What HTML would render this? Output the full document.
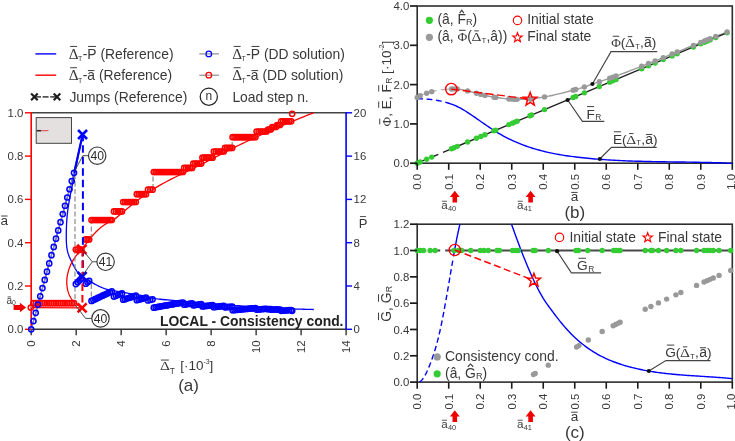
<!DOCTYPE html>
<html><head><meta charset="utf-8"><title>chart</title>
<style>
html,body{margin:0;padding:0;background:#ffffff;}
body{width:735px;height:441px;overflow:hidden;font-family:"Liberation Sans",sans-serif;}
svg{display:block;}
</style></head><body>
<svg width="735" height="441" viewBox="0 0 735 441" style="will-change:transform">
<rect x="0" y="0" width="735" height="441" fill="#ffffff"/>
<!-- panel a -->
<line x1="35.4" y1="53.9" x2="56.2" y2="53.9" stroke="#0000ff" stroke-width="1.4"/>
<g transform="translate(68.9,58.5)" fill="#383838"><text xml:space="preserve" transform="translate(-0.2,0) scale(1.08,1)" font-family='"Liberation Serif", serif' font-size="14.2">Δ</text><line x1="1.28" y1="-12.07" x2="8.18" y2="-12.07" stroke="#383838" stroke-width="0.97"/><text xml:space="preserve" x="9.16" y="2.7" font-family='"Liberation Sans", sans-serif' font-size="7">T</text><text xml:space="preserve" x="13.84" y="0" font-family='"Liberation Sans", sans-serif' font-size="13.86">-</text><text xml:space="preserve" x="18.45" y="0" font-family='"Liberation Sans", sans-serif' font-size="13.86">P</text><line x1="19.15" y1="-12.06" x2="27.01" y2="-12.06" stroke="#383838" stroke-width="0.97"/><text xml:space="preserve" x="27.7" y="0" font-family='"Liberation Sans", sans-serif' font-size="13.86"> (Reference)</text></g>
<line x1="35.4" y1="75.2" x2="56.2" y2="75.2" stroke="#ff0000" stroke-width="1.4"/>
<g transform="translate(68.9,79.8)" fill="#383838"><text xml:space="preserve" transform="translate(-0.2,0) scale(1.08,1)" font-family='"Liberation Serif", serif' font-size="14.2">Δ</text><line x1="1.28" y1="-12.07" x2="8.18" y2="-12.07" stroke="#383838" stroke-width="0.97"/><text xml:space="preserve" x="9.16" y="2.7" font-family='"Liberation Sans", sans-serif' font-size="7">T</text><text xml:space="preserve" x="13.84" y="0" font-family='"Liberation Sans", sans-serif' font-size="13.86">-</text><text xml:space="preserve" x="18.45" y="0" font-family='"Liberation Sans", sans-serif' font-size="13.86">a</text><line x1="19.03" y1="-9.22" x2="25.58" y2="-9.22" stroke="#383838" stroke-width="0.97"/><text xml:space="preserve" x="26.16" y="0" font-family='"Liberation Sans", sans-serif' font-size="13.86"> (Reference)</text></g>
<line x1="35" y1="96.9" x2="56.2" y2="96.9" stroke="#555" stroke-width="1.7" stroke-dasharray="6 1.6"/>
<path d="M31.1 93.6 L37.7 100.2 M31.1 100.2 L37.7 93.6" stroke="#1c1c1c" stroke-width="2.1" fill="none"/>
<path d="M53.7 93.6 L60.3 100.2 M53.7 100.2 L60.3 93.6" stroke="#1c1c1c" stroke-width="2.1" fill="none"/>
<g transform="translate(69.4,102)" fill="#383838"><text xml:space="preserve" x="0" y="0" font-family='"Liberation Sans", sans-serif' font-size="13.86">Jumps (Reference)</text></g>
<line x1="199.3" y1="53.9" x2="219" y2="53.9" stroke="#8c8c8c" stroke-width="1.2"/>
<circle cx="208.8" cy="53.9" r="2.8" fill="none" stroke="#0000ff" stroke-width="1.25"/>
<g transform="translate(232.4,58.5)" fill="#383838"><text xml:space="preserve" transform="translate(-0.2,0) scale(1.08,1)" font-family='"Liberation Serif", serif' font-size="14.2">Δ</text><line x1="1.28" y1="-12.07" x2="8.18" y2="-12.07" stroke="#383838" stroke-width="0.97"/><text xml:space="preserve" x="9.16" y="2.7" font-family='"Liberation Sans", sans-serif' font-size="7">T</text><text xml:space="preserve" x="13.84" y="0" font-family='"Liberation Sans", sans-serif' font-size="13.86">-</text><text xml:space="preserve" x="18.45" y="0" font-family='"Liberation Sans", sans-serif' font-size="13.86">P</text><line x1="19.15" y1="-12.06" x2="27.01" y2="-12.06" stroke="#383838" stroke-width="0.97"/><text xml:space="preserve" x="27.7" y="0" font-family='"Liberation Sans", sans-serif' font-size="13.86"> (DD solution)</text></g>
<line x1="199.3" y1="75.2" x2="219" y2="75.2" stroke="#8c8c8c" stroke-width="1.2"/>
<circle cx="208.8" cy="75.2" r="2.8" fill="none" stroke="#ff0000" stroke-width="1.25"/>
<g transform="translate(232.4,79.8)" fill="#383838"><text xml:space="preserve" transform="translate(-0.2,0) scale(1.08,1)" font-family='"Liberation Serif", serif' font-size="14.2">Δ</text><line x1="1.28" y1="-12.07" x2="8.18" y2="-12.07" stroke="#383838" stroke-width="0.97"/><text xml:space="preserve" x="9.16" y="2.7" font-family='"Liberation Sans", sans-serif' font-size="7">T</text><text xml:space="preserve" x="13.84" y="0" font-family='"Liberation Sans", sans-serif' font-size="13.86">-</text><text xml:space="preserve" x="18.45" y="0" font-family='"Liberation Sans", sans-serif' font-size="13.86">a</text><line x1="19.03" y1="-9.22" x2="25.58" y2="-9.22" stroke="#383838" stroke-width="0.97"/><text xml:space="preserve" x="26.16" y="0" font-family='"Liberation Sans", sans-serif' font-size="13.86"> (DD solution)</text></g>
<circle cx="208.8" cy="96.7" r="8.6" fill="none" stroke="#222" stroke-width="1.25"/>
<g transform="translate(208.8,100.3)" fill="#333"><text xml:space="preserve" x="-3.34" y="0" font-family='"Liberation Sans", sans-serif' font-size="12">n</text></g>
<g transform="translate(232.4,102)" fill="#383838"><text xml:space="preserve" x="0" y="0" font-family='"Liberation Sans", sans-serif' font-size="13.86">Load step n.</text></g>
<rect x="36.2" y="117.6" width="35.3" height="25.7" fill="#e4e0e0" stroke="#444" stroke-width="1"/>
<line x1="36.7" y1="130.7" x2="41" y2="130.7" stroke="#222" stroke-width="1.5"/>
<line x1="41" y1="130.8" x2="48.5" y2="130.6" stroke="#e03030" stroke-width="0.9"/>
<line x1="31.2" y1="112.8" x2="346.1" y2="112.8" stroke="#444" stroke-width="1.4"/>
<line x1="31.2" y1="329.3" x2="346.1" y2="329.3" stroke="#333" stroke-width="1.4"/>
<line x1="31.2" y1="112.2" x2="31.2" y2="329.9" stroke="#ff0000" stroke-width="1.6"/>
<line x1="346.1" y1="112.2" x2="346.1" y2="329.9" stroke="#0000ff" stroke-width="1.6"/>
<line x1="25" y1="329.3" x2="31.2" y2="329.3" stroke="#ff0000" stroke-width="1.4"/>
<g transform="translate(23.4,333.38)" fill="#383838"><text xml:space="preserve" x="-15.85" y="0" font-family='"Liberation Sans", sans-serif' font-size="11.4">0.0</text></g>
<line x1="346.1" y1="329.3" x2="352.1" y2="329.3" stroke="#0000ff" stroke-width="1.4"/>
<g transform="translate(353.6,333.38)" fill="#383838"><text xml:space="preserve" x="0" y="0" font-family='"Liberation Sans", sans-serif' font-size="11.4">0</text></g>
<line x1="25" y1="286" x2="31.2" y2="286" stroke="#ff0000" stroke-width="1.4"/>
<g transform="translate(23.4,290.08)" fill="#383838"><text xml:space="preserve" x="-15.85" y="0" font-family='"Liberation Sans", sans-serif' font-size="11.4">0.2</text></g>
<line x1="346.1" y1="286" x2="352.1" y2="286" stroke="#0000ff" stroke-width="1.4"/>
<g transform="translate(353.6,290.08)" fill="#383838"><text xml:space="preserve" x="0" y="0" font-family='"Liberation Sans", sans-serif' font-size="11.4">4</text></g>
<line x1="25" y1="242.7" x2="31.2" y2="242.7" stroke="#ff0000" stroke-width="1.4"/>
<g transform="translate(23.4,246.78)" fill="#383838"><text xml:space="preserve" x="-15.85" y="0" font-family='"Liberation Sans", sans-serif' font-size="11.4">0.4</text></g>
<line x1="346.1" y1="242.7" x2="352.1" y2="242.7" stroke="#0000ff" stroke-width="1.4"/>
<g transform="translate(353.6,246.78)" fill="#383838"><text xml:space="preserve" x="0" y="0" font-family='"Liberation Sans", sans-serif' font-size="11.4">8</text></g>
<line x1="25" y1="199.4" x2="31.2" y2="199.4" stroke="#ff0000" stroke-width="1.4"/>
<g transform="translate(23.4,203.48)" fill="#383838"><text xml:space="preserve" x="-15.85" y="0" font-family='"Liberation Sans", sans-serif' font-size="11.4">0.6</text></g>
<line x1="346.1" y1="199.4" x2="352.1" y2="199.4" stroke="#0000ff" stroke-width="1.4"/>
<g transform="translate(353.6,203.48)" fill="#383838"><text xml:space="preserve" x="0" y="0" font-family='"Liberation Sans", sans-serif' font-size="11.4">12</text></g>
<line x1="25" y1="156.1" x2="31.2" y2="156.1" stroke="#ff0000" stroke-width="1.4"/>
<g transform="translate(23.4,160.18)" fill="#383838"><text xml:space="preserve" x="-15.85" y="0" font-family='"Liberation Sans", sans-serif' font-size="11.4">0.8</text></g>
<line x1="346.1" y1="156.1" x2="352.1" y2="156.1" stroke="#0000ff" stroke-width="1.4"/>
<g transform="translate(353.6,160.18)" fill="#383838"><text xml:space="preserve" x="0" y="0" font-family='"Liberation Sans", sans-serif' font-size="11.4">16</text></g>
<line x1="25" y1="112.8" x2="31.2" y2="112.8" stroke="#ff0000" stroke-width="1.4"/>
<g transform="translate(23.4,116.88)" fill="#383838"><text xml:space="preserve" x="-15.85" y="0" font-family='"Liberation Sans", sans-serif' font-size="11.4">1.0</text></g>
<line x1="346.1" y1="112.8" x2="352.1" y2="112.8" stroke="#0000ff" stroke-width="1.4"/>
<g transform="translate(353.6,116.88)" fill="#383838"><text xml:space="preserve" x="0" y="0" font-family='"Liberation Sans", sans-serif' font-size="11.4">20</text></g>
<line x1="31.2" y1="329.3" x2="31.2" y2="335.3" stroke="#333" stroke-width="1.4"/>
<g transform="translate(35.28,340.3) rotate(-90)" fill="#383838"><text xml:space="preserve" x="-6.34" y="0" font-family='"Liberation Sans", sans-serif' font-size="11.4">0</text></g>
<line x1="76.19" y1="329.3" x2="76.19" y2="335.3" stroke="#333" stroke-width="1.4"/>
<g transform="translate(80.27,340.3) rotate(-90)" fill="#383838"><text xml:space="preserve" x="-6.34" y="0" font-family='"Liberation Sans", sans-serif' font-size="11.4">2</text></g>
<line x1="121.17" y1="329.3" x2="121.17" y2="335.3" stroke="#333" stroke-width="1.4"/>
<g transform="translate(125.25,340.3) rotate(-90)" fill="#383838"><text xml:space="preserve" x="-6.34" y="0" font-family='"Liberation Sans", sans-serif' font-size="11.4">4</text></g>
<line x1="166.16" y1="329.3" x2="166.16" y2="335.3" stroke="#333" stroke-width="1.4"/>
<g transform="translate(170.24,340.3) rotate(-90)" fill="#383838"><text xml:space="preserve" x="-6.34" y="0" font-family='"Liberation Sans", sans-serif' font-size="11.4">6</text></g>
<line x1="211.14" y1="329.3" x2="211.14" y2="335.3" stroke="#333" stroke-width="1.4"/>
<g transform="translate(215.22,340.3) rotate(-90)" fill="#383838"><text xml:space="preserve" x="-6.34" y="0" font-family='"Liberation Sans", sans-serif' font-size="11.4">8</text></g>
<line x1="256.13" y1="329.3" x2="256.13" y2="335.3" stroke="#333" stroke-width="1.4"/>
<g transform="translate(260.21,340.3) rotate(-90)" fill="#383838"><text xml:space="preserve" x="-12.68" y="0" font-family='"Liberation Sans", sans-serif' font-size="11.4">10</text></g>
<line x1="301.11" y1="329.3" x2="301.11" y2="335.3" stroke="#333" stroke-width="1.4"/>
<g transform="translate(305.2,340.3) rotate(-90)" fill="#383838"><text xml:space="preserve" x="-12.68" y="0" font-family='"Liberation Sans", sans-serif' font-size="11.4">12</text></g>
<line x1="346.1" y1="329.3" x2="346.1" y2="335.3" stroke="#333" stroke-width="1.4"/>
<g transform="translate(350.18,340.3) rotate(-90)" fill="#383838"><text xml:space="preserve" x="-12.68" y="0" font-family='"Liberation Sans", sans-serif' font-size="11.4">14</text></g>
<path d="M31.2 329.3 L74 172.8 L82.55 134.5 L82.23 135.93 L81.92 137.34 L81.62 138.73 L81.32 140.1 L81.03 141.44 L80.75 142.77 L80.48 144.09 L80.21 145.38 L79.95 146.67 L79.69 147.94 L79.44 149.2 L79.19 150.45 L78.94 151.7 L78.7 152.93 L78.46 154.16 L78.22 155.39 L77.99 156.62 L77.75 157.84 L77.52 159.07 L77.28 160.29 L77.04 161.53 L76.81 162.76 L76.57 164 L76.33 165.25 L76.08 166.51 L75.84 167.78 L75.58 169.06 L75.33 170.35 L75.07 171.66 L74.8 172.99 L74.53 174.33 L74.26 175.69 L73.98 177.06 L73.69 178.45 L73.4 179.85 L73.11 181.26 L72.82 182.67 L72.52 184.09 L72.23 185.51 L71.94 186.93 L71.65 188.35 L71.36 189.75 L71.08 191.16 L70.8 192.55 L70.53 193.92 L70.27 195.28 L70.01 196.63 L69.76 197.95 L69.52 199.25 L69.29 200.54 L69.06 201.81 L68.85 203.06 L68.65 204.3 L68.45 205.53 L68.26 206.75 L68.09 207.97 L67.92 209.17 L67.76 210.38 L67.61 211.58 L67.47 212.78 L67.33 213.98 L67.21 215.19 L67.1 216.4 L66.99 217.62 L66.89 218.84 L66.81 220.07 L66.73 221.3 L66.65 222.54 L66.59 223.78 L66.53 225.02 L66.48 226.27 L66.43 227.52 L66.39 228.77 L66.36 230.03 L66.33 231.28 L66.31 232.54 L66.3 233.81 L66.28 235.07 L66.28 236.33 L66.28 237.58 L66.29 238.83 L66.32 240.06 L66.35 241.28 L66.41 242.49 L66.47 243.68 L66.56 244.84 L66.66 245.98 L66.78 247.09 L66.93 248.17 L67.09 249.22 L67.29 250.23 L67.5 251.21 L67.75 252.16 L68.01 253.08 L68.3 253.98 L68.61 254.87 L68.95 255.76 L69.3 256.64 L69.68 257.52 L70.07 258.41 L70.49 259.32 L70.92 260.24 L71.37 261.19 L71.84 262.16 L72.32 263.14 L72.81 264.12 L73.31 265.09 L73.82 266.06 L74.33 267.01 L74.85 267.94 L75.37 268.83 L75.88 269.69 L76.4 270.5 L76.9 271.26 L77.4 271.96 L77.9 272.61 L78.4 273.22 L78.92 273.78 L79.44 274.32 L79.99 274.83 L80.57 275.32 L81.18 275.81 L81.83 276.3 L82.53 276.8 L83.27 277.31 L84.06 277.83 L84.88 278.35 L85.73 278.88 L86.6 279.42 L87.49 279.95 L88.4 280.48 L89.32 281.02 L90.25 281.54 L91.17 282.07 L92.09 282.58 L92.99 283.09 L93.89 283.58 L94.77 284.07 L95.65 284.54 L96.53 285.01 L97.4 285.46 L98.27 285.89 L99.14 286.32 L100.02 286.73 L100.89 287.12 L101.78 287.5 L102.67 287.87 L103.58 288.22 L104.5 288.55 L105.43 288.86 L106.38 289.16 L107.34 289.43 L108.33 289.69 L109.34 289.93 L110.38 290.15 L111.44 290.34 L112.53 290.52 L113.65 290.67 L114.8 290.8 L117.32 291.31 L119.84 291.79 L122.36 292.25 L124.88 292.68 L127.39 293.1 L129.91 293.52 L132.43 293.94 L134.95 294.36 L137.47 294.79 L139.99 295.25 L142.51 295.72 L145.03 296.25 L147.55 296.85 L150.07 297.48 L152.58 298.08 L155.1 298.58 L157.62 298.95 L160.14 299.25 L162.66 299.51 L165.18 299.75 L167.7 299.97 L170.22 300.17 L172.74 300.37 L175.26 300.57 L177.77 300.79 L180.29 301.02 L182.81 301.26 L185.33 301.5 L187.85 301.74 L190.37 301.98 L192.89 302.22 L195.41 302.45 L197.93 302.68 L200.45 302.91 L202.96 303.13 L205.48 303.34 L208 303.55 L210.52 303.75 L213.04 303.94 L215.56 304.14 L218.08 304.33 L220.6 304.51 L223.12 304.7 L225.64 304.88 L228.15 305.06 L230.67 305.24 L233.19 305.41 L235.71 305.59 L238.23 305.76 L240.75 305.94 L243.27 306.11 L245.79 306.28 L248.31 306.44 L250.83 306.61 L253.34 306.77 L255.86 306.93 L258.38 307.08 L260.9 307.23 L263.42 307.38 L265.94 307.53 L268.46 307.69 L270.98 307.84 L273.5 307.99 L276.02 308.13 L278.53 308.27 L281.05 308.41 L283.57 308.54 L286.09 308.66 L288.61 308.77 L291.13 308.87 L293.65 308.96 L296.17 309.04 L298.69 309.13 L301.21 309.2 L303.72 309.27 L306.24 309.34 L308.76 309.4 L311.28 309.45 L313.8 309.5" fill="none" stroke="#0000ff" stroke-width="1.3" stroke-linejoin="round"/>
<line x1="74.4" y1="172" x2="82.45" y2="135.5" stroke="#0000ff" stroke-width="2.2"/>
<path d="M31.2 307.7 L82.1 307.9 L81.37 307.5 L80.65 307.1 L79.95 306.68 L79.27 306.26 L78.61 305.82 L77.96 305.38 L77.33 304.92 L76.72 304.46 L76.13 303.98 L75.56 303.49 L75 302.99 L74.46 302.47 L73.94 301.94 L73.44 301.39 L72.95 300.83 L72.48 300.25 L72.03 299.66 L71.6 299.05 L71.18 298.42 L70.78 297.78 L70.4 297.11 L70.03 296.43 L69.69 295.73 L69.36 295.01 L69.04 294.26 L68.75 293.5 L68.47 292.71 L68.21 291.9 L67.97 291.08 L67.75 290.24 L67.55 289.38 L67.37 288.5 L67.21 287.61 L67.08 286.7 L66.97 285.78 L66.88 284.84 L66.82 283.9 L66.78 282.94 L66.77 281.98 L66.79 281 L66.83 280.02 L66.9 279.03 L67 278.04 L67.12 277.04 L67.27 276.04 L67.45 275.04 L67.65 274.04 L67.87 273.04 L68.12 272.05 L68.39 271.06 L68.68 270.07 L68.99 269.1 L69.33 268.13 L69.68 267.18 L70.05 266.23 L70.45 265.3 L70.86 264.39 L71.29 263.49 L71.73 262.61 L72.19 261.75 L72.66 260.91 L73.14 260.09 L73.62 259.3 L74.11 258.53 L74.6 257.79 L75.1 257.08 L75.58 256.39 L76.07 255.74 L76.54 255.12 L77.01 254.53 L77.46 253.98 L77.9 253.47 L78.32 252.99 L78.74 252.53 L79.15 252.1 L79.55 251.67 L79.95 251.25 L80.36 250.82 L80.77 250.38 L81.2 249.92 L81.63 249.43 L82.09 248.9 L82.56 248.33 L83.05 247.72 L83.56 247.07 L84.09 246.39 L84.64 245.67 L85.21 244.92 L85.8 244.15 L86.41 243.35 L87.04 242.53 L87.69 241.69 L88.35 240.83 L89.04 239.95 L89.75 239.07 L90.48 238.17 L91.23 237.27 L91.99 236.36 L92.78 235.44 L93.59 234.53 L94.42 233.62 L95.27 232.72 L96.14 231.82 L97.02 230.94 L97.93 230.07 L98.86 229.21 L99.81 228.37 L100.78 227.55 L101.77 226.75 L102.78 225.98 L103.81 225.24 L104.86 224.52 L105.94 223.85 L107.03 223.2 L108.14 222.59 L109.28 222.03 L110.43 221.51 L111.6 221.03 L112.8 220.6 L116.21 217.87 L119.61 215.05 L123.02 212.18 L126.42 209.33 L129.83 206.52 L133.23 203.82 L136.64 201.16 L140.04 198.51 L143.45 195.92 L146.85 193.43 L150.26 191.08 L153.66 188.92 L157.07 186.88 L160.47 184.92 L163.88 183.03 L167.28 181.21 L170.69 179.44 L174.09 177.72 L177.5 176.03 L180.9 174.37 L184.31 172.72 L187.71 171.07 L191.12 169.42 L194.52 167.75 L197.93 166.05 L201.33 164.32 L204.74 162.57 L208.14 160.82 L211.55 159.07 L214.95 157.31 L218.36 155.56 L221.76 153.81 L225.17 152.07 L228.57 150.35 L231.98 148.64 L235.38 146.95 L238.79 145.28 L242.19 143.63 L245.6 142.01 L249 140.42 L252.41 138.85 L255.81 137.29 L259.22 135.74 L262.62 134.2 L266.03 132.68 L269.43 131.17 L272.84 129.67 L276.24 128.18 L279.65 126.71 L283.05 125.25 L286.46 123.8 L289.86 122.37 L293.27 120.96 L296.67 119.56 L300.08 118.17 L303.48 116.8 L306.89 115.45 L310.29 114.12 L313.7 112.8" fill="none" stroke="#ff0000" stroke-width="1.3" stroke-linejoin="round"/>
<line x1="75" y1="174" x2="75" y2="304" stroke="#808080" stroke-width="1.1" stroke-dasharray="5 2.5"/>
<line x1="91.3" y1="239" x2="91.3" y2="221" stroke="#808080" stroke-width="1.1" stroke-dasharray="5 2.5"/>
<line x1="91.3" y1="284" x2="91.3" y2="299" stroke="#808080" stroke-width="1.1" stroke-dasharray="5 2.5"/>
<line x1="153" y1="189" x2="153" y2="173" stroke="#808080" stroke-width="1.1" stroke-dasharray="5 2.5"/>
<line x1="232.2" y1="147" x2="232.2" y2="138" stroke="#808080" stroke-width="1.1" stroke-dasharray="5 2.5"/>
<path d="M30.8 307.6 L33.45 303.2 L35.71 303.2 L37.96 303.2 L40.21 303.2 L42.47 303.2 L44.72 303.2 L46.97 303.2 L49.22 303.2 L51.48 303.2 L53.73 303.2 L55.98 303.2 L58.24 303.2 L60.49 303.2 L62.74 303.2 L65 303.2 L67.25 303.2 L69.5 303.2 L71.75 303.2 L74.01 303.2" fill="none" stroke="#999999" stroke-width="1.1" stroke-linejoin="round"/>
<path d="M75.8 249.5 L77.67 249.5 L79.53 249.5 L81.4 249.5" fill="none" stroke="#999999" stroke-width="1.1" stroke-linejoin="round"/>
<path d="M85.8 239.4 L87.5 239.4 L89.2 239.4" fill="none" stroke="#999999" stroke-width="1.1" stroke-linejoin="round"/>
<path d="M91.5 220 L93.35 220 L95.19 220 L97.04 220 L98.88 220 L100.73 220 L102.57 220 L104.42 220 L106.26 220 L108.11 220 L109.95 220 L111.8 220" fill="none" stroke="#999999" stroke-width="1.1" stroke-linejoin="round"/>
<path d="M113.9 211.4 L115.93 211.4 L117.95 211.4 L119.97 211.4 L122 211.4" fill="none" stroke="#999999" stroke-width="1.1" stroke-linejoin="round"/>
<path d="M123.2 202 L125 202 L126.8 202 L128.6 202 L130.4 202 L132.2 202 L134 202 L135.8 202" fill="none" stroke="#999999" stroke-width="1.1" stroke-linejoin="round"/>
<path d="M136.8 194.2 L138.64 194.2 L140.48 194.2 L142.32 194.2 L144.16 194.2 L146 194.2" fill="none" stroke="#999999" stroke-width="1.1" stroke-linejoin="round"/>
<path d="M148 189.7 L150.3 189.7 L152.6 189.7" fill="none" stroke="#999999" stroke-width="1.1" stroke-linejoin="round"/>
<path d="M153.8 172 L155.62 172 L157.45 172 L159.28 172 L161.1 172 L162.93 172 L164.75 172 L166.58 172 L168.4 172 L170.22 172 L172.05 172 L173.88 172 L175.7 172 L177.53 172 L179.35 172 L181.18 172 L183 172" fill="none" stroke="#999999" stroke-width="1.1" stroke-linejoin="round"/>
<path d="M184.2 167.9 L186.2 167.9 L188.2 167.9 L190.2 167.9 L192.2 167.9" fill="none" stroke="#999999" stroke-width="1.1" stroke-linejoin="round"/>
<path d="M193.3 163.6 L195.28 163.6 L197.25 163.6 L199.22 163.6 L201.2 163.6" fill="none" stroke="#999999" stroke-width="1.1" stroke-linejoin="round"/>
<path d="M202.4 157.7 L204.1 157.7 L205.8 157.7 L207.5 157.7 L209.2 157.7 L210.9 157.7 L212.6 157.7" fill="none" stroke="#999999" stroke-width="1.1" stroke-linejoin="round"/>
<path d="M213.8 151.5 L215.8 151.5 L217.8 151.5 L219.8 151.5 L221.8 151.5 L223.8 151.5" fill="none" stroke="#999999" stroke-width="1.1" stroke-linejoin="round"/>
<path d="M225 147.9 L226.8 147.9 L228.6 147.9 L230.4 147.9 L232.2 147.9" fill="none" stroke="#999999" stroke-width="1.1" stroke-linejoin="round"/>
<path d="M232.6 137.2 L234.5 137.2 L236.4 137.2 L238.3 137.2 L240.2 137.2 L242.1 137.2 L244 137.2 L245.9 137.2 L247.8 137.2 L249.7 137.2 L251.6 137.2 L253.5 137.2 L255.4 137.2" fill="none" stroke="#999999" stroke-width="1.1" stroke-linejoin="round"/>
<path d="M256.6 131.5 L258.6 131.5 L260.6 131.5 L262.6 131.5 L264.6 131.5 L266.6 131.5" fill="none" stroke="#999999" stroke-width="1.1" stroke-linejoin="round"/>
<path d="M268 129.5 L269.4 129.5 L270.8 129.5" fill="none" stroke="#999999" stroke-width="1.1" stroke-linejoin="round"/>
<path d="M272.2 127 L274.1 127 L276 127" fill="none" stroke="#999999" stroke-width="1.1" stroke-linejoin="round"/>
<path d="M277.2 125 L278.6 125 L280 125" fill="none" stroke="#999999" stroke-width="1.1" stroke-linejoin="round"/>
<path d="M281.2 121.3 L283.2 121.3 L285.2 121.3 L287.2 121.3 L289.2 121.3 L291.2 121.3" fill="none" stroke="#999999" stroke-width="1.1" stroke-linejoin="round"/>
<path d="M31.2 329.3 L33.45 321.06 L35.71 312.83 L37.96 304.59 L40.21 296.35 L42.47 288.12 L44.72 279.88 L46.97 271.64 L49.22 263.4 L51.48 255.17 L53.73 246.93 L55.98 238.69 L58.24 230.46 L60.49 222.22 L62.74 213.98 L65 205.75 L67.25 197.51 L69.5 189.27 L71.75 181.03 L74.01 172.8" fill="none" stroke="#999999" stroke-width="1.1" stroke-linejoin="round"/>
<path d="M75.8 284.08 L77.67 282.19 L79.53 280.29 L81.4 278.4" fill="none" stroke="#999999" stroke-width="1.1" stroke-linejoin="round"/>
<path d="M85.8 283.77 L87.5 282.36 L89.2 280.94" fill="none" stroke="#999999" stroke-width="1.1" stroke-linejoin="round"/>
<path d="M91.5 300.93 L93.35 300.06 L95.19 299.19 L97.04 298.32 L98.88 297.45 L100.73 296.58 L102.57 295.72 L104.42 294.85 L106.26 293.98 L108.11 293.11 L109.95 292.24 L111.8 291.37" fill="none" stroke="#999999" stroke-width="1.1" stroke-linejoin="round"/>
<path d="M113.9 296.59 L115.93 295.79 L117.95 294.99 L119.97 294.18 L122 293.38" fill="none" stroke="#999999" stroke-width="1.1" stroke-linejoin="round"/>
<path d="M123.2 299.75 L125 299.17 L126.8 298.59 L128.6 298.02 L130.4 297.44 L132.2 296.86 L134 296.28 L135.8 295.7" fill="none" stroke="#999999" stroke-width="1.1" stroke-linejoin="round"/>
<path d="M136.8 300.21 L138.64 299.7 L140.48 299.2 L142.32 298.69 L144.16 298.18 L146 297.68" fill="none" stroke="#999999" stroke-width="1.1" stroke-linejoin="round"/>
<path d="M148 300.42 L150.3 299.85 L152.6 299.28" fill="none" stroke="#999999" stroke-width="1.1" stroke-linejoin="round"/>
<path d="M153.8 307.64 L155.62 307.31 L157.45 306.99 L159.28 306.67 L161.1 306.35 L162.93 306.02 L164.75 305.7 L166.58 305.38 L168.4 305.06 L170.22 304.73 L172.05 304.41 L173.88 304.09 L175.7 303.77 L177.53 303.44 L179.35 303.12 L181.18 302.8 L183 302.48" fill="none" stroke="#999999" stroke-width="1.1" stroke-linejoin="round"/>
<path d="M184.2 304.64 L186.2 304.32 L188.2 304 L190.2 303.67 L192.2 303.35" fill="none" stroke="#999999" stroke-width="1.1" stroke-linejoin="round"/>
<path d="M193.3 305.34 L195.28 305.05 L197.25 304.76 L199.22 304.47 L201.2 304.18" fill="none" stroke="#999999" stroke-width="1.1" stroke-linejoin="round"/>
<path d="M202.4 306.47 L204.1 306.24 L205.8 306.02 L207.5 305.79 L209.2 305.56 L210.9 305.34 L212.6 305.11" fill="none" stroke="#999999" stroke-width="1.1" stroke-linejoin="round"/>
<path d="M213.8 307.16 L215.8 306.92 L217.8 306.67 L219.8 306.43 L221.8 306.19 L223.8 305.95" fill="none" stroke="#999999" stroke-width="1.1" stroke-linejoin="round"/>
<path d="M225 307.36 L226.8 307.16 L228.6 306.95 L230.4 306.75 L232.2 306.54" fill="none" stroke="#999999" stroke-width="1.1" stroke-linejoin="round"/>
<path d="M232.6 310.26 L234.5 310.08 L236.4 309.9 L238.3 309.72 L240.2 309.54 L242.1 309.36 L244 309.18 L245.9 309 L247.8 308.82 L249.7 308.64 L251.6 308.46 L253.5 308.28 L255.4 308.1" fill="none" stroke="#999999" stroke-width="1.1" stroke-linejoin="round"/>
<path d="M256.6 309.65 L258.6 309.47 L260.6 309.3 L262.6 309.12 L264.6 308.95 L266.6 308.77" fill="none" stroke="#999999" stroke-width="1.1" stroke-linejoin="round"/>
<path d="M268 309.26 L269.4 309.14 L270.8 309.03" fill="none" stroke="#999999" stroke-width="1.1" stroke-linejoin="round"/>
<path d="M272.2 309.64 L274.1 309.48 L276 309.33" fill="none" stroke="#999999" stroke-width="1.1" stroke-linejoin="round"/>
<path d="M277.2 309.77 L278.6 309.66 L280 309.55" fill="none" stroke="#999999" stroke-width="1.1" stroke-linejoin="round"/>
<path d="M281.2 310.81 L283.2 310.66 L285.2 310.51 L287.2 310.37 L289.2 310.22 L291.2 310.07" fill="none" stroke="#999999" stroke-width="1.1" stroke-linejoin="round"/>
<g fill="none" stroke="#ff0000" stroke-width="1.5">
<circle cx="30.8" cy="307.6" r="2.6"/>
<circle cx="33.45" cy="303.2" r="2.6"/>
<circle cx="35.71" cy="303.2" r="2.6"/>
<circle cx="37.96" cy="303.2" r="2.6"/>
<circle cx="40.21" cy="303.2" r="2.6"/>
<circle cx="42.47" cy="303.2" r="2.6"/>
<circle cx="44.72" cy="303.2" r="2.6"/>
<circle cx="46.97" cy="303.2" r="2.6"/>
<circle cx="49.22" cy="303.2" r="2.6"/>
<circle cx="51.48" cy="303.2" r="2.6"/>
<circle cx="53.73" cy="303.2" r="2.6"/>
<circle cx="55.98" cy="303.2" r="2.6"/>
<circle cx="58.24" cy="303.2" r="2.6"/>
<circle cx="60.49" cy="303.2" r="2.6"/>
<circle cx="62.74" cy="303.2" r="2.6"/>
<circle cx="65" cy="303.2" r="2.6"/>
<circle cx="67.25" cy="303.2" r="2.6"/>
<circle cx="69.5" cy="303.2" r="2.6"/>
<circle cx="71.75" cy="303.2" r="2.6"/>
<circle cx="74.01" cy="303.2" r="2.6"/>
<circle cx="75.8" cy="249.5" r="2.6"/>
<circle cx="77.67" cy="249.5" r="2.6"/>
<circle cx="79.53" cy="249.5" r="2.6"/>
<circle cx="81.4" cy="249.5" r="2.6"/>
<circle cx="85.8" cy="239.4" r="2.6"/>
<circle cx="87.5" cy="239.4" r="2.6"/>
<circle cx="89.2" cy="239.4" r="2.6"/>
<circle cx="91.5" cy="220" r="2.6"/>
<circle cx="93.35" cy="220" r="2.6"/>
<circle cx="95.19" cy="220" r="2.6"/>
<circle cx="97.04" cy="220" r="2.6"/>
<circle cx="98.88" cy="220" r="2.6"/>
<circle cx="100.73" cy="220" r="2.6"/>
<circle cx="102.57" cy="220" r="2.6"/>
<circle cx="104.42" cy="220" r="2.6"/>
<circle cx="106.26" cy="220" r="2.6"/>
<circle cx="108.11" cy="220" r="2.6"/>
<circle cx="109.95" cy="220" r="2.6"/>
<circle cx="111.8" cy="220" r="2.6"/>
<circle cx="113.9" cy="211.4" r="2.6"/>
<circle cx="115.93" cy="211.4" r="2.6"/>
<circle cx="117.95" cy="211.4" r="2.6"/>
<circle cx="119.97" cy="211.4" r="2.6"/>
<circle cx="122" cy="211.4" r="2.6"/>
<circle cx="123.2" cy="202" r="2.6"/>
<circle cx="125" cy="202" r="2.6"/>
<circle cx="126.8" cy="202" r="2.6"/>
<circle cx="128.6" cy="202" r="2.6"/>
<circle cx="130.4" cy="202" r="2.6"/>
<circle cx="132.2" cy="202" r="2.6"/>
<circle cx="134" cy="202" r="2.6"/>
<circle cx="135.8" cy="202" r="2.6"/>
<circle cx="136.8" cy="194.2" r="2.6"/>
<circle cx="138.64" cy="194.2" r="2.6"/>
<circle cx="140.48" cy="194.2" r="2.6"/>
<circle cx="142.32" cy="194.2" r="2.6"/>
<circle cx="144.16" cy="194.2" r="2.6"/>
<circle cx="146" cy="194.2" r="2.6"/>
<circle cx="148" cy="189.7" r="2.6"/>
<circle cx="150.3" cy="189.7" r="2.6"/>
<circle cx="152.6" cy="189.7" r="2.6"/>
<circle cx="153.8" cy="172" r="2.6"/>
<circle cx="155.62" cy="172" r="2.6"/>
<circle cx="157.45" cy="172" r="2.6"/>
<circle cx="159.28" cy="172" r="2.6"/>
<circle cx="161.1" cy="172" r="2.6"/>
<circle cx="162.93" cy="172" r="2.6"/>
<circle cx="164.75" cy="172" r="2.6"/>
<circle cx="166.58" cy="172" r="2.6"/>
<circle cx="168.4" cy="172" r="2.6"/>
<circle cx="170.22" cy="172" r="2.6"/>
<circle cx="172.05" cy="172" r="2.6"/>
<circle cx="173.88" cy="172" r="2.6"/>
<circle cx="175.7" cy="172" r="2.6"/>
<circle cx="177.53" cy="172" r="2.6"/>
<circle cx="179.35" cy="172" r="2.6"/>
<circle cx="181.18" cy="172" r="2.6"/>
<circle cx="183" cy="172" r="2.6"/>
<circle cx="184.2" cy="167.9" r="2.6"/>
<circle cx="186.2" cy="167.9" r="2.6"/>
<circle cx="188.2" cy="167.9" r="2.6"/>
<circle cx="190.2" cy="167.9" r="2.6"/>
<circle cx="192.2" cy="167.9" r="2.6"/>
<circle cx="193.3" cy="163.6" r="2.6"/>
<circle cx="195.28" cy="163.6" r="2.6"/>
<circle cx="197.25" cy="163.6" r="2.6"/>
<circle cx="199.22" cy="163.6" r="2.6"/>
<circle cx="201.2" cy="163.6" r="2.6"/>
<circle cx="202.4" cy="157.7" r="2.6"/>
<circle cx="204.1" cy="157.7" r="2.6"/>
<circle cx="205.8" cy="157.7" r="2.6"/>
<circle cx="207.5" cy="157.7" r="2.6"/>
<circle cx="209.2" cy="157.7" r="2.6"/>
<circle cx="210.9" cy="157.7" r="2.6"/>
<circle cx="212.6" cy="157.7" r="2.6"/>
<circle cx="213.8" cy="151.5" r="2.6"/>
<circle cx="215.8" cy="151.5" r="2.6"/>
<circle cx="217.8" cy="151.5" r="2.6"/>
<circle cx="219.8" cy="151.5" r="2.6"/>
<circle cx="221.8" cy="151.5" r="2.6"/>
<circle cx="223.8" cy="151.5" r="2.6"/>
<circle cx="225" cy="147.9" r="2.6"/>
<circle cx="226.8" cy="147.9" r="2.6"/>
<circle cx="228.6" cy="147.9" r="2.6"/>
<circle cx="230.4" cy="147.9" r="2.6"/>
<circle cx="232.2" cy="147.9" r="2.6"/>
<circle cx="232.6" cy="137.2" r="2.6"/>
<circle cx="234.5" cy="137.2" r="2.6"/>
<circle cx="236.4" cy="137.2" r="2.6"/>
<circle cx="238.3" cy="137.2" r="2.6"/>
<circle cx="240.2" cy="137.2" r="2.6"/>
<circle cx="242.1" cy="137.2" r="2.6"/>
<circle cx="244" cy="137.2" r="2.6"/>
<circle cx="245.9" cy="137.2" r="2.6"/>
<circle cx="247.8" cy="137.2" r="2.6"/>
<circle cx="249.7" cy="137.2" r="2.6"/>
<circle cx="251.6" cy="137.2" r="2.6"/>
<circle cx="253.5" cy="137.2" r="2.6"/>
<circle cx="255.4" cy="137.2" r="2.6"/>
<circle cx="256.6" cy="131.5" r="2.6"/>
<circle cx="258.6" cy="131.5" r="2.6"/>
<circle cx="260.6" cy="131.5" r="2.6"/>
<circle cx="262.6" cy="131.5" r="2.6"/>
<circle cx="264.6" cy="131.5" r="2.6"/>
<circle cx="266.6" cy="131.5" r="2.6"/>
<circle cx="268" cy="129.5" r="2.6"/>
<circle cx="269.4" cy="129.5" r="2.6"/>
<circle cx="270.8" cy="129.5" r="2.6"/>
<circle cx="272.2" cy="127" r="2.6"/>
<circle cx="274.1" cy="127" r="2.6"/>
<circle cx="276" cy="127" r="2.6"/>
<circle cx="277.2" cy="125" r="2.6"/>
<circle cx="278.6" cy="125" r="2.6"/>
<circle cx="280" cy="125" r="2.6"/>
<circle cx="281.2" cy="121.3" r="2.6"/>
<circle cx="283.2" cy="121.3" r="2.6"/>
<circle cx="285.2" cy="121.3" r="2.6"/>
<circle cx="287.2" cy="121.3" r="2.6"/>
<circle cx="289.2" cy="121.3" r="2.6"/>
<circle cx="291.2" cy="121.3" r="2.6"/>
<circle cx="292.2" cy="113.8" r="2.6"/>
</g>
<g fill="none" stroke="#0000ff" stroke-width="1.5">
<circle cx="31.2" cy="329.3" r="2.6"/>
<circle cx="33.45" cy="321.06" r="2.6"/>
<circle cx="35.71" cy="312.83" r="2.6"/>
<circle cx="37.96" cy="304.59" r="2.6"/>
<circle cx="40.21" cy="296.35" r="2.6"/>
<circle cx="42.47" cy="288.12" r="2.6"/>
<circle cx="44.72" cy="279.88" r="2.6"/>
<circle cx="46.97" cy="271.64" r="2.6"/>
<circle cx="49.22" cy="263.4" r="2.6"/>
<circle cx="51.48" cy="255.17" r="2.6"/>
<circle cx="53.73" cy="246.93" r="2.6"/>
<circle cx="55.98" cy="238.69" r="2.6"/>
<circle cx="58.24" cy="230.46" r="2.6"/>
<circle cx="60.49" cy="222.22" r="2.6"/>
<circle cx="62.74" cy="213.98" r="2.6"/>
<circle cx="65" cy="205.75" r="2.6"/>
<circle cx="67.25" cy="197.51" r="2.6"/>
<circle cx="69.5" cy="189.27" r="2.6"/>
<circle cx="71.75" cy="181.03" r="2.6"/>
<circle cx="74.01" cy="172.8" r="2.6"/>
<circle cx="75.8" cy="284.08" r="2.6"/>
<circle cx="77.67" cy="282.19" r="2.6"/>
<circle cx="79.53" cy="280.29" r="2.6"/>
<circle cx="81.4" cy="278.4" r="2.6"/>
<circle cx="85.8" cy="283.77" r="2.6"/>
<circle cx="87.5" cy="282.36" r="2.6"/>
<circle cx="89.2" cy="280.94" r="2.6"/>
<circle cx="91.5" cy="300.93" r="2.6"/>
<circle cx="93.35" cy="300.06" r="2.6"/>
<circle cx="95.19" cy="299.19" r="2.6"/>
<circle cx="97.04" cy="298.32" r="2.6"/>
<circle cx="98.88" cy="297.45" r="2.6"/>
<circle cx="100.73" cy="296.58" r="2.6"/>
<circle cx="102.57" cy="295.72" r="2.6"/>
<circle cx="104.42" cy="294.85" r="2.6"/>
<circle cx="106.26" cy="293.98" r="2.6"/>
<circle cx="108.11" cy="293.11" r="2.6"/>
<circle cx="109.95" cy="292.24" r="2.6"/>
<circle cx="111.8" cy="291.37" r="2.6"/>
<circle cx="113.9" cy="296.59" r="2.6"/>
<circle cx="115.93" cy="295.79" r="2.6"/>
<circle cx="117.95" cy="294.99" r="2.6"/>
<circle cx="119.97" cy="294.18" r="2.6"/>
<circle cx="122" cy="293.38" r="2.6"/>
<circle cx="123.2" cy="299.75" r="2.6"/>
<circle cx="125" cy="299.17" r="2.6"/>
<circle cx="126.8" cy="298.59" r="2.6"/>
<circle cx="128.6" cy="298.02" r="2.6"/>
<circle cx="130.4" cy="297.44" r="2.6"/>
<circle cx="132.2" cy="296.86" r="2.6"/>
<circle cx="134" cy="296.28" r="2.6"/>
<circle cx="135.8" cy="295.7" r="2.6"/>
<circle cx="136.8" cy="300.21" r="2.6"/>
<circle cx="138.64" cy="299.7" r="2.6"/>
<circle cx="140.48" cy="299.2" r="2.6"/>
<circle cx="142.32" cy="298.69" r="2.6"/>
<circle cx="144.16" cy="298.18" r="2.6"/>
<circle cx="146" cy="297.68" r="2.6"/>
<circle cx="148" cy="300.42" r="2.6"/>
<circle cx="150.3" cy="299.85" r="2.6"/>
<circle cx="152.6" cy="299.28" r="2.6"/>
<circle cx="153.8" cy="307.64" r="2.6"/>
<circle cx="155.62" cy="307.31" r="2.6"/>
<circle cx="157.45" cy="306.99" r="2.6"/>
<circle cx="159.28" cy="306.67" r="2.6"/>
<circle cx="161.1" cy="306.35" r="2.6"/>
<circle cx="162.93" cy="306.02" r="2.6"/>
<circle cx="164.75" cy="305.7" r="2.6"/>
<circle cx="166.58" cy="305.38" r="2.6"/>
<circle cx="168.4" cy="305.06" r="2.6"/>
<circle cx="170.22" cy="304.73" r="2.6"/>
<circle cx="172.05" cy="304.41" r="2.6"/>
<circle cx="173.88" cy="304.09" r="2.6"/>
<circle cx="175.7" cy="303.77" r="2.6"/>
<circle cx="177.53" cy="303.44" r="2.6"/>
<circle cx="179.35" cy="303.12" r="2.6"/>
<circle cx="181.18" cy="302.8" r="2.6"/>
<circle cx="183" cy="302.48" r="2.6"/>
<circle cx="184.2" cy="304.64" r="2.6"/>
<circle cx="186.2" cy="304.32" r="2.6"/>
<circle cx="188.2" cy="304" r="2.6"/>
<circle cx="190.2" cy="303.67" r="2.6"/>
<circle cx="192.2" cy="303.35" r="2.6"/>
<circle cx="193.3" cy="305.34" r="2.6"/>
<circle cx="195.28" cy="305.05" r="2.6"/>
<circle cx="197.25" cy="304.76" r="2.6"/>
<circle cx="199.22" cy="304.47" r="2.6"/>
<circle cx="201.2" cy="304.18" r="2.6"/>
<circle cx="202.4" cy="306.47" r="2.6"/>
<circle cx="204.1" cy="306.24" r="2.6"/>
<circle cx="205.8" cy="306.02" r="2.6"/>
<circle cx="207.5" cy="305.79" r="2.6"/>
<circle cx="209.2" cy="305.56" r="2.6"/>
<circle cx="210.9" cy="305.34" r="2.6"/>
<circle cx="212.6" cy="305.11" r="2.6"/>
<circle cx="213.8" cy="307.16" r="2.6"/>
<circle cx="215.8" cy="306.92" r="2.6"/>
<circle cx="217.8" cy="306.67" r="2.6"/>
<circle cx="219.8" cy="306.43" r="2.6"/>
<circle cx="221.8" cy="306.19" r="2.6"/>
<circle cx="223.8" cy="305.95" r="2.6"/>
<circle cx="225" cy="307.36" r="2.6"/>
<circle cx="226.8" cy="307.16" r="2.6"/>
<circle cx="228.6" cy="306.95" r="2.6"/>
<circle cx="230.4" cy="306.75" r="2.6"/>
<circle cx="232.2" cy="306.54" r="2.6"/>
<circle cx="232.6" cy="310.26" r="2.6"/>
<circle cx="234.5" cy="310.08" r="2.6"/>
<circle cx="236.4" cy="309.9" r="2.6"/>
<circle cx="238.3" cy="309.72" r="2.6"/>
<circle cx="240.2" cy="309.54" r="2.6"/>
<circle cx="242.1" cy="309.36" r="2.6"/>
<circle cx="244" cy="309.18" r="2.6"/>
<circle cx="245.9" cy="309" r="2.6"/>
<circle cx="247.8" cy="308.82" r="2.6"/>
<circle cx="249.7" cy="308.64" r="2.6"/>
<circle cx="251.6" cy="308.46" r="2.6"/>
<circle cx="253.5" cy="308.28" r="2.6"/>
<circle cx="255.4" cy="308.1" r="2.6"/>
<circle cx="256.6" cy="309.65" r="2.6"/>
<circle cx="258.6" cy="309.47" r="2.6"/>
<circle cx="260.6" cy="309.3" r="2.6"/>
<circle cx="262.6" cy="309.12" r="2.6"/>
<circle cx="264.6" cy="308.95" r="2.6"/>
<circle cx="266.6" cy="308.77" r="2.6"/>
<circle cx="268" cy="309.26" r="2.6"/>
<circle cx="269.4" cy="309.14" r="2.6"/>
<circle cx="270.8" cy="309.03" r="2.6"/>
<circle cx="272.2" cy="309.64" r="2.6"/>
<circle cx="274.1" cy="309.48" r="2.6"/>
<circle cx="276" cy="309.33" r="2.6"/>
<circle cx="277.2" cy="309.77" r="2.6"/>
<circle cx="278.6" cy="309.66" r="2.6"/>
<circle cx="280" cy="309.55" r="2.6"/>
<circle cx="281.2" cy="310.81" r="2.6"/>
<circle cx="283.2" cy="310.66" r="2.6"/>
<circle cx="285.2" cy="310.51" r="2.6"/>
<circle cx="287.2" cy="310.37" r="2.6"/>
<circle cx="289.2" cy="310.22" r="2.6"/>
<circle cx="291.2" cy="310.07" r="2.6"/>
<circle cx="292.2" cy="310.8" r="2.6"/>
</g>
<line x1="82.9" y1="133.8" x2="82.9" y2="276.5" stroke="#0000ff" stroke-width="2" stroke-dasharray="7.5 4"/>
<line x1="82.4" y1="249" x2="82.4" y2="307.9" stroke="#ff0000" stroke-width="2" stroke-dasharray="7.5 4"/>
<path d="M78.05 130 L87.05 139 M78.05 139 L87.05 130" stroke="#0000ff" stroke-width="2.6" fill="none"/>
<path d="M77.6 272 L86.6 281 M77.6 281 L86.6 272" stroke="#0000ff" stroke-width="2.6" fill="none"/>
<path d="M77.2 244.7 L86.4 253.9 M77.2 253.9 L86.4 244.7" stroke="#ff0000" stroke-width="2.7" fill="none"/>
<path d="M77.6 303.4 L86.6 312.4 M77.6 312.4 L86.6 303.4" stroke="#ff0000" stroke-width="2.6" fill="none"/>
<path d="M88.8 155.7 L82.8 155.7 L74.6 171.2" fill="none" stroke="#333" stroke-width="0.9" stroke-linejoin="round"/>
<circle cx="97.2" cy="155.7" r="8.7" fill="#ffffff" stroke="#333" stroke-width="1.15"/>
<g transform="translate(97.2,160)" fill="#2e2e2e"><text xml:space="preserve" x="-6.79" y="0" font-family='"Liberation Sans", sans-serif' font-size="12.2">40</text></g>
<path d="M82.3 249.6 L92.3 261.8 L97.2 261.8" fill="none" stroke="#333" stroke-width="0.9" stroke-linejoin="round"/>
<path d="M92.3 261.8 L82.4 275.6" fill="none" stroke="#333" stroke-width="0.9" stroke-linejoin="round"/>
<circle cx="105.6" cy="261.8" r="8.7" fill="#ffffff" stroke="#333" stroke-width="1.15"/>
<g transform="translate(105.6,266.1)" fill="#2e2e2e"><text xml:space="preserve" x="-6.79" y="0" font-family='"Liberation Sans", sans-serif' font-size="12.2">41</text></g>
<path d="M92 318.4 L85.6 318.4 L75.4 305.2" fill="none" stroke="#333" stroke-width="0.9" stroke-linejoin="round"/>
<circle cx="100.5" cy="318.4" r="8.7" fill="#ffffff" stroke="#333" stroke-width="1.15"/>
<g transform="translate(100.5,322.7)" fill="#2e2e2e"><text xml:space="preserve" x="-6.79" y="0" font-family='"Liberation Sans", sans-serif' font-size="12.2">40</text></g>
<g transform="translate(343.6,325.6)" fill="#222"><text xml:space="preserve" x="-183.55" y="0" font-family='"Liberation Sans", sans-serif' font-size="13.9" font-weight="bold">LOCAL - Consistency cond.</text></g>
<g transform="translate(0.6,225)" fill="#383838"><text xml:space="preserve" x="0" y="0" font-family='"Liberation Sans", sans-serif' font-size="13.6">a</text><line x1="0.57" y1="-8.98" x2="7" y2="-8.98" stroke="#383838" stroke-width="0.95"/></g>
<g transform="translate(363,227.5)" fill="#383838"><text xml:space="preserve" x="-4.34" y="0" font-family='"Liberation Sans", sans-serif' font-size="13">P</text><line x1="-3.03" y1="-10.92" x2="3.03" y2="-10.92" stroke="#383838" stroke-width="0.91"/></g>
<g transform="translate(160.2,370.3)" fill="#383838"><text xml:space="preserve" transform="translate(-0.3,0) scale(1.27,1)" font-family='"Liberation Serif", serif' font-size="12.2">Δ</text><line x1="0.7" y1="-10.25" x2="8.67" y2="-10.25" stroke="#383838" stroke-width="0.95"/><text xml:space="preserve" x="9.46" y="3.4" font-family='"Liberation Sans", sans-serif' font-size="8.4">T</text><text xml:space="preserve" x="16.19" y="0" font-family='"Liberation Sans", sans-serif' font-size="13.5"> [·10</text><text xml:space="preserve" x="43.21" y="-6.75" font-family='"Liberation Sans", sans-serif' font-size="6.8">-3</text><text xml:space="preserve" x="49.25" y="0" font-family='"Liberation Sans", sans-serif' font-size="13.5">]</text></g>
<g transform="translate(188.5,390.8)" fill="#383838"><text xml:space="preserve" x="-10.39" y="0" font-family='"Liberation Sans", sans-serif' font-size="17">(a)</text></g>
<g transform="translate(6.5,303.5)" fill="#383838"><text xml:space="preserve" x="0" y="0" font-family='"Liberation Sans", sans-serif' font-size="10">a</text><line x1="1.06" y1="-6.6" x2="4.5" y2="-6.6" stroke="#383838" stroke-width="0.8"/><text xml:space="preserve" x="5.56" y="1.2" font-family='"Liberation Sans", sans-serif' font-size="6.8">0</text></g>
<polygon points="26.1,307.5 19.9,302.65 19.9,305.1 13.6,305.1 13.6,309.9 19.9,309.9 19.9,312.35" fill="#ee0000"/>
<!-- panel b -->
<rect x="417.2" y="6" width="315.1" height="157.2" fill="none" stroke="#2e2e2e" stroke-width="1.6"/>
<path d="M417.2 98.93 L418.18 98.9 L419.17 98.89 L420.15 98.88 L421.13 98.88 L422.12 98.9 L423.1 98.92 L424.08 98.95 L425.07 99 L426.05 99.05 L427.03 99.11 L428.02 99.19 L429 99.27 L429.98 99.37 L430.97 99.47 L431.95 99.59 L432.93 99.71 L433.92 99.85 L434.9 100 L435.88 100.16 L436.87 100.32 L437.85 100.5 L438.83 100.69 L439.82 100.9 L440.8 101.11 L441.78 101.33 L442.77 101.57 L443.75 101.81 L444.73 102.07 L445.72 102.34" fill="none" stroke="#0000ff" stroke-width="1.4" stroke-linejoin="round" stroke-dasharray="5.8 3.6"/>
<path d="M445.72 102.34 L448.12 103.04 L450.53 103.83 L452.94 104.7 L455.35 105.68 L457.76 106.76 L460.17 107.97 L462.57 109.3 L464.98 110.75 L467.39 112.29 L469.8 113.89 L472.21 115.53 L474.62 117.18 L477.02 118.86 L479.43 120.54 L481.84 122.22 L484.25 123.89 L486.66 125.54 L489.07 127.17 L491.47 128.77 L493.88 130.34 L496.29 131.85 L498.7 133.31 L501.11 134.71 L503.51 136.05 L505.92 137.33 L508.33 138.56 L510.74 139.74 L513.15 140.86 L515.56 141.93 L517.96 142.96 L520.37 143.94 L522.78 144.88 L525.19 145.77 L527.6 146.62 L530.01 147.43 L532.41 148.21 L534.82 148.94 L537.23 149.64 L539.64 150.3 L542.05 150.94 L544.46 151.53 L546.86 152.1 L549.27 152.64 L551.68 153.15 L554.09 153.63 L556.5 154.09 L558.9 154.52 L561.31 154.93 L563.72 155.32 L566.13 155.69 L568.54 156.04 L570.95 156.37 L573.35 156.68 L575.76 156.98 L578.17 157.27 L580.58 157.54 L582.99 157.8 L585.4 158.05 L587.8 158.29 L590.21 158.52 L592.62 158.74 L595.03 158.94 L597.44 159.14 L599.85 159.33 L602.25 159.51 L604.66 159.67 L607.07 159.84 L609.48 159.99 L611.89 160.13 L614.3 160.27 L616.7 160.39 L619.11 160.52 L621.52 160.63 L623.93 160.74 L626.34 160.84 L628.74 160.93 L631.15 161.02 L633.56 161.1 L635.97 161.18 L638.38 161.25 L640.79 161.32 L643.19 161.38 L645.6 161.44 L648.01 161.5 L650.42 161.55 L652.83 161.6 L655.24 161.65 L657.64 161.69 L660.05 161.73 L662.46 161.77 L664.87 161.8 L667.28 161.84 L669.69 161.87 L672.09 161.91 L674.5 161.94 L676.91 161.97 L679.32 162 L681.73 162.04 L684.13 162.07 L686.54 162.1 L688.95 162.14 L691.36 162.17 L693.77 162.21 L696.18 162.25 L698.58 162.29 L700.99 162.34 L703.4 162.39 L705.81 162.44 L708.22 162.49 L710.63 162.55 L713.03 162.61 L715.44 162.68 L717.85 162.75 L720.26 162.82 L722.67 162.9 L725.08 162.99 L727.48 163.08 L729.89 163.18 L732.3 163.29" fill="none" stroke="#0000ff" stroke-width="1.4" stroke-linejoin="round"/>
<path d="M417.2 97.41 L418.49 96.58 L419.78 95.85 L421.06 95.25 L422.35 94.73 L423.64 94.26 L424.93 93.82 L426.21 93.39 L427.5 92.96 L428.79 92.53 L430.08 92.12 L431.36 91.76 L432.65 91.44 L433.94 91.13 L435.23 90.84 L436.51 90.56 L437.8 90.3 L439.09 90.07 L440.38 89.87 L441.66 89.71 L442.95 89.58 L444.24 89.47 L445.53 89.36 L446.81 89.26 L448.1 89.16 L449.39 89.08 L450.68 89.02 L451.96 88.97 L453.25 88.93 L454.54 88.92" fill="none" stroke="#aaaaaa" stroke-width="1.1" stroke-linejoin="round" stroke-dasharray="8 4.5"/>
<path d="M454.54 88.92 L456.83 89.02 L459.12 89.27 L461.41 89.64 L463.7 90.09 L465.99 90.56 L468.28 91.03 L470.57 91.59 L472.86 92.24 L475.15 92.9 L477.44 93.51 L479.73 94.12 L482.02 94.72 L484.31 95.27 L486.6 95.76 L488.89 96.24 L491.18 96.68 L493.47 97.08 L495.76 97.43 L498.05 97.74 L500.34 98.05 L502.63 98.34 L504.92 98.61 L507.21 98.83 L509.5 99.02 L511.79 99.14 L514.08 99.24 L516.37 99.33 L518.66 99.39 L520.95 99.42 L523.24 99.38 L525.53 99.27 L527.82 99.12 L530.11 98.95 L532.41 98.75 L534.7 98.48 L536.99 98.16 L539.28 97.79 L541.57 97.41 L543.86 97.01 L546.15 96.61 L548.44 96.17 L550.73 95.7 L553.02 95.2 L555.31 94.69 L557.6 94.16 L559.89 93.63 L562.18 93.07 L564.47 92.49 L566.76 91.9 L569.05 91.29 L571.34 90.68 L573.63 90.06 L575.92 89.43 L578.21 88.8 L580.5 88.15 L582.79 87.5 L585.08 86.84 L587.37 86.17 L589.66 84.87 L591.95 84.15 L594.24 83.42 L596.53 82.67 L598.82 81.92 L601.11 81.16 L603.4 80.4 L605.69 79.62 L607.98 78.84 L610.27 78.05 L612.56 77.25 L614.85 76.44 L617.14 75.63 L619.43 74.81 L621.72 73.96 L624.01 73.1 L626.3 72.23 L628.59 71.35 L630.88 70.47 L633.17 69.59 L635.46 68.7 L637.75 67.81 L640.04 66.91 L642.33 66.01 L644.62 65.1 L646.91 64.19 L649.2 63.28 L651.49 62.36 L653.78 61.44 L656.07 60.52 L658.36 59.6 L660.65 58.67 L662.94 57.74 L665.23 56.81 L667.52 55.88 L669.82 54.95 L672.11 54.02 L674.4 53.08 L676.69 52.15 L678.98 51.22 L681.27 50.28 L683.56 49.35 L685.85 48.42 L688.14 47.49 L690.43 46.56 L692.72 45.63 L695.01 44.7 L697.3 43.78 L699.59 42.85 L701.88 41.93 L704.17 41.02 L706.46 40.1 L708.75 39.19 L711.04 38.28 L713.33 37.38 L715.62 36.48 L717.91 35.58 L720.2 34.69 L722.49 33.8 L724.78 32.92 L727.07 32.04" fill="none" stroke="#999999" stroke-width="1.4" stroke-linejoin="round"/>
<line x1="417.2" y1="163.2" x2="454.54" y2="147.48" stroke="#222" stroke-width="1.4" stroke-dasharray="9 5"/>
<line x1="454.54" y1="147.48" x2="727.89" y2="32.42" stroke="#222" stroke-width="1.4"/>
<g fill="#33cc33">
<circle cx="417.2" cy="163.2" r="2.7"/>
<circle cx="420.19" cy="161.94" r="2.7"/>
<circle cx="426.65" cy="159.22" r="2.7"/>
<circle cx="431.69" cy="157.1" r="2.7"/>
<circle cx="451.55" cy="148.74" r="2.7"/>
<circle cx="454.07" cy="147.68" r="2.7"/>
<circle cx="457.22" cy="146.36" r="2.7"/>
<circle cx="467.62" cy="141.98" r="2.7"/>
<circle cx="476.44" cy="138.26" r="2.7"/>
<circle cx="480.85" cy="136.41" r="2.7"/>
<circle cx="484.95" cy="134.68" r="2.7"/>
<circle cx="494.08" cy="130.84" r="2.7"/>
<circle cx="495.66" cy="130.17" r="2.7"/>
<circle cx="508.89" cy="124.6" r="2.7"/>
<circle cx="512.36" cy="123.14" r="2.7"/>
<circle cx="514.88" cy="122.08" r="2.7"/>
<circle cx="517.09" cy="121.15" r="2.7"/>
<circle cx="530.01" cy="115.72" r="2.7"/>
<circle cx="531.58" cy="115.05" r="2.7"/>
<circle cx="544.5" cy="109.61" r="2.7"/>
<circle cx="573.17" cy="97.54" r="2.7"/>
<circle cx="575.7" cy="96.48" r="2.7"/>
<circle cx="584.36" cy="92.84" r="2.7"/>
<circle cx="599.33" cy="86.54" r="2.7"/>
<circle cx="609.73" cy="82.16" r="2.7"/>
<circle cx="612.88" cy="80.83" r="2.7"/>
<circle cx="616.03" cy="79.51" r="2.7"/>
<circle cx="641.71" cy="68.7" r="2.7"/>
<circle cx="648.48" cy="65.84" r="2.7"/>
<circle cx="655.1" cy="63.06" r="2.7"/>
<circle cx="663.29" cy="59.61" r="2.7"/>
<circle cx="672.12" cy="55.9" r="2.7"/>
<circle cx="677.16" cy="53.77" r="2.7"/>
<circle cx="693.39" cy="46.94" r="2.7"/>
<circle cx="700.79" cy="43.83" r="2.7"/>
<circle cx="704.57" cy="42.23" r="2.7"/>
<circle cx="707.09" cy="41.17" r="2.7"/>
<circle cx="710.09" cy="39.91" r="2.7"/>
<circle cx="715.79" cy="37.51" r="2.7"/>
<circle cx="727.07" cy="32.76" r="2.7"/>
</g>
<g fill="#999999">
<circle cx="417.2" cy="97.41" r="2.7"/>
<circle cx="420.19" cy="95.64" r="2.7"/>
<circle cx="426.65" cy="93.25" r="2.7"/>
<circle cx="431.69" cy="91.67" r="2.7"/>
<circle cx="451.55" cy="88.98" r="2.7"/>
<circle cx="454.07" cy="88.92" r="2.7"/>
<circle cx="457.22" cy="89.05" r="2.7"/>
<circle cx="467.62" cy="90.89" r="2.7"/>
<circle cx="476.44" cy="93.25" r="2.7"/>
<circle cx="480.85" cy="94.41" r="2.7"/>
<circle cx="484.95" cy="95.41" r="2.7"/>
<circle cx="494.08" cy="97.18" r="2.7"/>
<circle cx="495.66" cy="97.41" r="2.7"/>
<circle cx="508.89" cy="98.97" r="2.7"/>
<circle cx="512.36" cy="99.17" r="2.7"/>
<circle cx="514.88" cy="99.27" r="2.7"/>
<circle cx="517.09" cy="99.35" r="2.7"/>
<circle cx="530.01" cy="98.95" r="2.7"/>
<circle cx="531.58" cy="98.83" r="2.7"/>
<circle cx="544.5" cy="96.9" r="2.7"/>
<circle cx="573.17" cy="90.18" r="2.7"/>
<circle cx="575.7" cy="89.49" r="2.7"/>
<circle cx="584.36" cy="87.05" r="2.7"/>
<circle cx="599.33" cy="81.76" r="2.7"/>
<circle cx="609.73" cy="78.24" r="2.7"/>
<circle cx="612.88" cy="77.14" r="2.7"/>
<circle cx="616.03" cy="76.03" r="2.7"/>
<circle cx="641.71" cy="66.25" r="2.7"/>
<circle cx="648.48" cy="63.56" r="2.7"/>
<circle cx="655.1" cy="60.91" r="2.7"/>
<circle cx="663.29" cy="57.6" r="2.7"/>
<circle cx="672.12" cy="54.01" r="2.7"/>
<circle cx="677.16" cy="51.96" r="2.7"/>
<circle cx="693.39" cy="45.36" r="2.7"/>
<circle cx="700.79" cy="42.37" r="2.7"/>
<circle cx="704.57" cy="40.86" r="2.7"/>
<circle cx="707.09" cy="39.85" r="2.7"/>
<circle cx="710.09" cy="38.66" r="2.7"/>
<circle cx="715.79" cy="36.41" r="2.7"/>
<circle cx="727.07" cy="32.04" r="2.7"/>
</g>
<line x1="451.3" y1="89.1" x2="530.2" y2="99.1" stroke="#ff0000" stroke-width="1.4" stroke-dasharray="8 3.5"/>
<circle cx="451.3" cy="89.1" r="5.7" fill="none" stroke="#ff0000" stroke-width="1.4"/>
<path d="M530.2 92.4 L531.93 97.02 L536.86 97.24 L533 100.31 L534.31 105.06 L530.2 102.34 L526.09 105.06 L527.4 100.31 L523.54 97.24 L528.47 97.02 Z" fill="none" stroke="#ff0000" stroke-width="1.5" stroke-linejoin="miter"/>
<path d="M592.4 84 L611 51.6 L657.2 51.6" fill="none" stroke="#444" stroke-width="1.15" stroke-linejoin="miter"/>
<circle cx="592.4" cy="84" r="2.1" fill="#111"/>
<g transform="translate(611.2,46.8)" fill="#383838"><text xml:space="preserve" x="0" y="0" font-family='"Liberation Serif", serif' font-size="13.15">Φ</text><line x1="1.54" y1="-10.52" x2="8.08" y2="-10.52" stroke="#383838" stroke-width="0.96"/><text xml:space="preserve" x="9.61" y="0" font-family='"Liberation Sans", sans-serif' font-size="13.7">(</text><text xml:space="preserve" transform="translate(13.88,0) scale(1.27,1)" font-family='"Liberation Serif", serif' font-size="12.2">Δ</text><line x1="16.67" y1="-10.13" x2="21.05" y2="-10.13" stroke="#383838" stroke-width="0.96"/><text xml:space="preserve" x="23.84" y="1.7" font-family='"Liberation Sans", sans-serif' font-size="7.8">T</text><text xml:space="preserve" x="28.8" y="0" font-family='"Liberation Sans", sans-serif' font-size="13.7">,</text><text xml:space="preserve" x="32.91" y="0" font-family='"Liberation Sans", sans-serif' font-size="13.97">a</text><line x1="33.69" y1="-9.22" x2="39.9" y2="-9.22" stroke="#383838" stroke-width="0.96"/><text xml:space="preserve" x="40.68" y="0" font-family='"Liberation Sans", sans-serif' font-size="13.7">)</text></g>
<path d="M567.6 100 L582.4 121.4 L604.3 121.4" fill="none" stroke="#444" stroke-width="1.15" stroke-linejoin="miter"/>
<circle cx="567.6" cy="100" r="2.1" fill="#111"/>
<g transform="translate(586.4,118.5)" fill="#383838"><text xml:space="preserve" x="0" y="0" font-family='"Liberation Sans", sans-serif' font-size="13.7">F</text><line x1="0.63" y1="-11.92" x2="7.74" y2="-11.92" stroke="#383838" stroke-width="0.96"/><text xml:space="preserve" x="8.97" y="1.6" font-family='"Liberation Sans", sans-serif' font-size="8.4">R</text></g>
<path d="M599.8 159 L611.4 147.3 L656.7 147.3" fill="none" stroke="#444" stroke-width="1.15" stroke-linejoin="miter"/>
<circle cx="599.8" cy="159" r="2.1" fill="#111"/>
<g transform="translate(612.9,143.7)" fill="#383838"><text xml:space="preserve" x="0" y="0" font-family='"Liberation Sans", sans-serif' font-size="13.7">E</text><line x1="0.91" y1="-11.92" x2="8.22" y2="-11.92" stroke="#383838" stroke-width="0.96"/><text xml:space="preserve" x="9.14" y="0" font-family='"Liberation Sans", sans-serif' font-size="13.7">(</text><text xml:space="preserve" transform="translate(13.4,0) scale(1.27,1)" font-family='"Liberation Serif", serif' font-size="12.2">Δ</text><line x1="16.19" y1="-10.13" x2="20.57" y2="-10.13" stroke="#383838" stroke-width="0.96"/><text xml:space="preserve" x="23.36" y="1.7" font-family='"Liberation Sans", sans-serif' font-size="7.8">T</text><text xml:space="preserve" x="28.33" y="0" font-family='"Liberation Sans", sans-serif' font-size="13.7">,</text><text xml:space="preserve" x="32.44" y="0" font-family='"Liberation Sans", sans-serif' font-size="13.97">a</text><line x1="33.21" y1="-9.22" x2="39.43" y2="-9.22" stroke="#383838" stroke-width="0.96"/><text xml:space="preserve" x="40.21" y="0" font-family='"Liberation Sans", sans-serif' font-size="13.7">)</text></g>
<circle cx="429.4" cy="20.3" r="3.6" fill="#33cc33"/>
<circle cx="429.4" cy="37.3" r="3.6" fill="#999999"/>
<g transform="translate(437.4,23.9)" fill="#383838"><text xml:space="preserve" x="0" y="0" font-family='"Liberation Sans", sans-serif' font-size="13.9">(â, </text><text xml:space="preserve" x="20.08" y="0" font-family='"Liberation Sans", sans-serif' font-size="13.9">F</text><polyline points="22.21,-10.84 24.33,-13.62 26.45,-10.84" fill="none" stroke="#383838" stroke-width="1.11"/><text xml:space="preserve" x="28.57" y="1.39" font-family='"Liberation Sans", sans-serif' font-size="9.17">R</text><text xml:space="preserve" x="35.2" y="0" font-family='"Liberation Sans", sans-serif' font-size="13.9">)</text></g>
<g transform="translate(437.4,41)" fill="#383838"><text xml:space="preserve" x="0" y="0" font-family='"Liberation Sans", sans-serif' font-size="13.9">(â, </text><text xml:space="preserve" x="20.08" y="0" font-family='"Liberation Serif", serif' font-size="13.34">Φ</text><line x1="21.64" y1="-10.68" x2="28.28" y2="-10.68" stroke="#383838" stroke-width="0.97"/><text xml:space="preserve" x="29.84" y="0" font-family='"Liberation Sans", sans-serif' font-size="13.9">(</text><text xml:space="preserve" transform="translate(34.17,0) scale(1.27,1)" font-family='"Liberation Serif", serif' font-size="12.2">Δ</text><line x1="36.96" y1="-10.13" x2="41.34" y2="-10.13" stroke="#383838" stroke-width="0.97"/><text xml:space="preserve" x="44.13" y="1.7" font-family='"Liberation Sans", sans-serif' font-size="7.8">T</text><text xml:space="preserve" x="49.09" y="0" font-family='"Liberation Sans", sans-serif' font-size="13.9">,â))</text></g>
<circle cx="517.5" cy="20.4" r="4.2" fill="none" stroke="#ff0000" stroke-width="1.2"/>
<g transform="translate(527.2,23.5)" fill="#383838"><text xml:space="preserve" x="0" y="0" font-family='"Liberation Sans", sans-serif' font-size="13.9">Initial state</text></g>
<path d="M517.5 32.6 L518.73 35.9 L522.26 36.05 L519.5 38.25 L520.44 41.65 L517.5 39.7 L514.56 41.65 L515.5 38.25 L512.74 36.05 L516.27 35.9 Z" fill="none" stroke="#ff0000" stroke-width="1.1" stroke-linejoin="miter"/>
<g transform="translate(527.2,41.3)" fill="#383838"><text xml:space="preserve" x="0" y="0" font-family='"Liberation Sans", sans-serif' font-size="13.9">Final state</text></g>
<line x1="410" y1="163.2" x2="417.2" y2="163.2" stroke="#1a1a1a" stroke-width="1.7"/>
<g transform="translate(409.3,167.28)" fill="#383838"><text xml:space="preserve" x="-15.85" y="0" font-family='"Liberation Sans", sans-serif' font-size="11.4">0.0</text></g>
<line x1="410" y1="123.9" x2="417.2" y2="123.9" stroke="#1a1a1a" stroke-width="1.7"/>
<g transform="translate(409.3,127.98)" fill="#383838"><text xml:space="preserve" x="-15.85" y="0" font-family='"Liberation Sans", sans-serif' font-size="11.4">1.0</text></g>
<line x1="410" y1="84.6" x2="417.2" y2="84.6" stroke="#1a1a1a" stroke-width="1.7"/>
<g transform="translate(409.3,88.68)" fill="#383838"><text xml:space="preserve" x="-15.85" y="0" font-family='"Liberation Sans", sans-serif' font-size="11.4">2.0</text></g>
<line x1="410" y1="45.3" x2="417.2" y2="45.3" stroke="#1a1a1a" stroke-width="1.7"/>
<g transform="translate(409.3,49.38)" fill="#383838"><text xml:space="preserve" x="-15.85" y="0" font-family='"Liberation Sans", sans-serif' font-size="11.4">3.0</text></g>
<line x1="410" y1="6" x2="417.2" y2="6" stroke="#1a1a1a" stroke-width="1.7"/>
<g transform="translate(409.3,10.08)" fill="#383838"><text xml:space="preserve" x="-15.85" y="0" font-family='"Liberation Sans", sans-serif' font-size="11.4">4.0</text></g>
<line x1="417.2" y1="163.2" x2="417.2" y2="169.8" stroke="#1a1a1a" stroke-width="1.6"/>
<g transform="translate(421.28,173.9) rotate(-90)" fill="#383838"><text xml:space="preserve" x="-15.85" y="0" font-family='"Liberation Sans", sans-serif' font-size="11.4">0.0</text></g>
<line x1="448.71" y1="163.2" x2="448.71" y2="169.8" stroke="#1a1a1a" stroke-width="1.6"/>
<g transform="translate(452.79,173.9) rotate(-90)" fill="#383838"><text xml:space="preserve" x="-15.85" y="0" font-family='"Liberation Sans", sans-serif' font-size="11.4">0.1</text></g>
<line x1="480.22" y1="163.2" x2="480.22" y2="169.8" stroke="#1a1a1a" stroke-width="1.6"/>
<g transform="translate(484.3,173.9) rotate(-90)" fill="#383838"><text xml:space="preserve" x="-15.85" y="0" font-family='"Liberation Sans", sans-serif' font-size="11.4">0.2</text></g>
<line x1="511.73" y1="163.2" x2="511.73" y2="169.8" stroke="#1a1a1a" stroke-width="1.6"/>
<g transform="translate(515.81,173.9) rotate(-90)" fill="#383838"><text xml:space="preserve" x="-15.85" y="0" font-family='"Liberation Sans", sans-serif' font-size="11.4">0.3</text></g>
<line x1="543.24" y1="163.2" x2="543.24" y2="169.8" stroke="#1a1a1a" stroke-width="1.6"/>
<g transform="translate(547.32,173.9) rotate(-90)" fill="#383838"><text xml:space="preserve" x="-15.85" y="0" font-family='"Liberation Sans", sans-serif' font-size="11.4">0.4</text></g>
<line x1="574.75" y1="163.2" x2="574.75" y2="169.8" stroke="#1a1a1a" stroke-width="1.6"/>
<g transform="translate(578.83,173.9) rotate(-90)" fill="#383838"><text xml:space="preserve" x="-15.85" y="0" font-family='"Liberation Sans", sans-serif' font-size="11.4">0.5</text></g>
<line x1="606.26" y1="163.2" x2="606.26" y2="169.8" stroke="#1a1a1a" stroke-width="1.6"/>
<g transform="translate(610.34,173.9) rotate(-90)" fill="#383838"><text xml:space="preserve" x="-15.85" y="0" font-family='"Liberation Sans", sans-serif' font-size="11.4">0.6</text></g>
<line x1="637.77" y1="163.2" x2="637.77" y2="169.8" stroke="#1a1a1a" stroke-width="1.6"/>
<g transform="translate(641.85,173.9) rotate(-90)" fill="#383838"><text xml:space="preserve" x="-15.85" y="0" font-family='"Liberation Sans", sans-serif' font-size="11.4">0.7</text></g>
<line x1="669.28" y1="163.2" x2="669.28" y2="169.8" stroke="#1a1a1a" stroke-width="1.6"/>
<g transform="translate(673.36,173.9) rotate(-90)" fill="#383838"><text xml:space="preserve" x="-15.85" y="0" font-family='"Liberation Sans", sans-serif' font-size="11.4">0.8</text></g>
<line x1="700.79" y1="163.2" x2="700.79" y2="169.8" stroke="#1a1a1a" stroke-width="1.6"/>
<g transform="translate(704.87,173.9) rotate(-90)" fill="#383838"><text xml:space="preserve" x="-15.85" y="0" font-family='"Liberation Sans", sans-serif' font-size="11.4">0.9</text></g>
<line x1="732.3" y1="163.2" x2="732.3" y2="169.8" stroke="#1a1a1a" stroke-width="1.6"/>
<g transform="translate(734.78,173.9) rotate(-90)" fill="#383838"><text xml:space="preserve" x="-15.85" y="0" font-family='"Liberation Sans", sans-serif' font-size="11.4">1.0</text></g>
<g transform="translate(390.8,83.5) rotate(-90)" fill="#383838"><text xml:space="preserve" x="-42.89" y="0" font-family='"Liberation Serif", serif' font-size="13.19">Φ</text><line x1="-40.96" y1="-11.08" x2="-35.18" y2="-11.08" stroke="#383838" stroke-width="0.95"/><text xml:space="preserve" x="-33.25" y="0" font-family='"Liberation Sans", sans-serif' font-size="13.6">, </text><text xml:space="preserve" x="-25.69" y="0" font-family='"Liberation Sans", sans-serif' font-size="13.6">E</text><line x1="-24.33" y1="-12.1" x2="-17.98" y2="-12.1" stroke="#383838" stroke-width="0.95"/><text xml:space="preserve" x="-16.62" y="0" font-family='"Liberation Sans", sans-serif' font-size="13.6">, </text><text xml:space="preserve" x="-9.07" y="0" font-family='"Liberation Sans", sans-serif' font-size="13.6">F</text><line x1="-8.03" y1="-12.1" x2="-1.8" y2="-12.1" stroke="#383838" stroke-width="0.95"/><text xml:space="preserve" x="-0.36" y="1.5" font-family='"Liberation Sans", sans-serif' font-size="8.6">R</text><text xml:space="preserve" x="5.85" y="0" font-family='"Liberation Sans", sans-serif' font-size="13.6"> [·10</text><text xml:space="preserve" x="33.07" y="-6.8" font-family='"Liberation Sans", sans-serif' font-size="6.8">-2</text><text xml:space="preserve" x="39.11" y="0" font-family='"Liberation Sans", sans-serif' font-size="13.6">]</text></g>
<g transform="translate(574.4,201.4)" fill="#383838"><text xml:space="preserve" x="-3.78" y="0" font-family='"Liberation Sans", sans-serif' font-size="13.6">a</text><line x1="-3.21" y1="-8.98" x2="3.21" y2="-8.98" stroke="#383838" stroke-width="0.95"/></g>
<g transform="translate(574.8,218.3)" fill="#383838"><text xml:space="preserve" x="-10.39" y="0" font-family='"Liberation Sans", sans-serif' font-size="17">(b)</text></g>
<polygon points="454.8,190.7 459.75,197 457.1,197 457.1,202.6 452.5,202.6 452.5,197 449.85,197" fill="#ee0000"/>
<g transform="translate(441.2,208.9)" fill="#383838"><text xml:space="preserve" x="0" y="0" font-family='"Liberation Sans", sans-serif' font-size="11.6">a</text><line x1="0.65" y1="-7.66" x2="5.81" y2="-7.66" stroke="#383838" stroke-width="0.81"/><text xml:space="preserve" x="6.75" y="2.2" font-family='"Liberation Sans", sans-serif' font-size="7.4">40</text></g>
<polygon points="530.6,190.7 535.55,197 532.9,197 532.9,202.6 528.3,202.6 528.3,197 525.65,197" fill="#ee0000"/>
<g transform="translate(517,208.9)" fill="#383838"><text xml:space="preserve" x="0" y="0" font-family='"Liberation Sans", sans-serif' font-size="11.6">a</text><line x1="0.65" y1="-7.66" x2="5.81" y2="-7.66" stroke="#383838" stroke-width="0.81"/><text xml:space="preserve" x="6.75" y="2.2" font-family='"Liberation Sans", sans-serif' font-size="7.4">41</text></g>
<!-- panel c -->
<rect x="417.2" y="224.2" width="315.1" height="157.9" fill="none" stroke="#2e2e2e" stroke-width="1.6"/>
<line x1="417.2" y1="250.52" x2="454.07" y2="250.52" stroke="#484848" stroke-width="1.8" stroke-dasharray="9 5"/>
<line x1="454.07" y1="250.52" x2="732.3" y2="250.52" stroke="#484848" stroke-width="1.8"/>
<path d="M419.6 382.1 L420.36 381.52 L421.1 380.85 L421.8 380.11 L422.48 379.3 L423.14 378.42 L423.79 377.47 L424.41 376.46 L425.03 375.39 L425.63 374.26 L426.23 373.07 L426.83 371.83 L427.42 370.53 L428.02 369.19 L428.61 367.81 L429.21 366.37 L429.81 364.89 L430.4 363.37 L431 361.8 L431.59 360.19 L432.19 358.54 L432.78 356.85 L433.36 355.11 L433.94 353.34 L434.52 351.53 L435.09 349.68 L435.65 347.8 L436.21 345.88 L436.75 343.93 L437.29 341.94 L437.82 339.92 L438.34 337.87 L438.84 335.79 L439.34 333.67 L439.83 331.53 L440.31 329.36 L440.79 327.16 L441.25 324.93 L441.72 322.67 L442.18 320.39 L442.63 318.08 L443.08 315.74 L443.53 313.38 L443.98 311 L444.42 308.6 L444.87 306.17 L445.31 303.73 L445.75 301.27 L446.19 298.8 L446.62 296.32 L447.06 293.82 L447.49 291.32 L447.92 288.81 L448.35 286.3 L448.78 283.79 L449.21 281.27 L449.64 278.75 L450.06 276.24 L450.49 273.73 L450.91 271.23 L451.34 268.73 L451.76 266.24 L452.19 263.75 L452.61 261.28 L453.04 258.82" fill="none" stroke="#0000ff" stroke-width="1.4" stroke-linejoin="round" stroke-dasharray="5.5 3.2"/>
<path d="M453.47 256.37 L453.91 253.94 L454.34 251.52 L454.78 249.12 L455.22 246.74 L455.67 244.37 L456.12 242.03 L456.57 239.71 L457.03 237.41 L457.49 235.14 L457.96 232.9 L458.44 230.68 L458.92 228.49 L459.41 226.33 L459.9 224.2" fill="none" stroke="#0000ff" stroke-width="1.4" stroke-linejoin="round"/>
<path d="M511.5 224.22 L512.89 228.11 L514.28 231.97 L515.67 235.78 L517.05 239.56 L518.44 243.28 L519.83 246.96 L521.22 250.58 L522.61 254.15 L524 257.66 L525.39 261.11 L526.78 264.49 L528.16 267.8 L529.55 271.04 L530.94 274.21 L532.33 277.29 L533.72 280.3 L535.11 283.21 L536.5 286.04 L537.88 288.77 L539.27 291.4 L540.66 293.92 L542.05 296.32 L543.44 298.61 L544.83 300.78 L546.22 302.85 L547.61 304.84 L548.99 306.77 L550.38 308.66 L551.77 310.54 L553.16 312.39 L554.55 314.23 L555.94 316.05 L557.33 317.84 L558.72 319.6 L560.1 321.34 L561.49 323.04 L562.88 324.71 L564.27 326.35 L565.66 327.95 L567.05 329.51 L568.44 331.04 L569.82 332.52 L571.21 333.95 L572.6 335.34 L573.99 336.69 L575.38 338 L576.77 339.27 L578.16 340.51 L579.55 341.7 L580.93 342.86 L582.32 343.98 L583.71 345.07 L585.1 346.12 L586.49 347.14 L587.88 348.13 L589.27 349.09 L590.65 350.02 L592.04 350.93 L593.43 351.8 L594.82 352.65 L596.21 353.47 L597.6 354.27 L598.99 355.04 L600.38 355.78 L601.76 356.5 L603.15 357.2 L604.54 357.87 L605.93 358.53 L607.32 359.16 L608.71 359.77 L610.1 360.36 L611.48 360.93 L612.87 361.48 L614.26 362.02 L615.65 362.53 L617.04 363.03 L618.43 363.52 L619.82 363.98 L621.21 364.44 L622.59 364.88 L623.98 365.3 L625.37 365.71 L626.76 366.11 L628.15 366.5 L629.54 366.88 L630.93 367.24 L632.32 367.6 L633.7 367.94 L635.09 368.28 L636.48 368.6 L637.87 368.92 L639.26 369.22 L640.65 369.52 L642.04 369.8 L643.42 370.08 L644.81 370.35 L646.2 370.61 L647.59 370.86 L648.98 371.1 L650.37 371.34 L651.76 371.57 L653.15 371.79 L654.53 372 L655.92 372.2 L657.31 372.4 L658.7 372.59 L660.09 372.78 L661.48 372.96 L662.87 373.13 L664.25 373.29 L665.64 373.45 L667.03 373.61 L668.42 373.76 L669.81 373.91 L671.2 374.05 L672.59 374.18 L673.98 374.31 L675.36 374.44 L676.75 374.56 L678.14 374.68 L679.53 374.8 L680.92 374.91 L682.31 375.02 L683.7 375.12 L685.08 375.23 L686.47 375.33 L687.86 375.43 L689.25 375.52 L690.64 375.62 L692.03 375.71 L693.42 375.8 L694.81 375.89 L696.19 375.98 L697.58 376.07 L698.97 376.15 L700.36 376.24 L701.75 376.33 L703.14 376.41 L704.53 376.5 L705.92 376.59 L707.3 376.68 L708.69 376.76 L710.08 376.85 L711.47 376.94 L712.86 377.04 L714.25 377.13 L715.64 377.23 L717.02 377.33 L718.41 377.43 L719.8 377.53 L721.19 377.63 L722.58 377.74 L723.97 377.85 L725.36 377.97 L726.75 378.09 L728.13 378.21 L729.52 378.34 L730.91 378.47 L732.3 378.6" fill="none" stroke="#0000ff" stroke-width="1.4" stroke-linejoin="round"/>
<g fill="#999999">
<circle cx="533.47" cy="374.47" r="2.7"/>
<circle cx="535.2" cy="373.38" r="2.7"/>
<circle cx="548.28" cy="365.13" r="2.7"/>
<circle cx="576.64" cy="346.97" r="2.7"/>
<circle cx="578.85" cy="345.62" r="2.7"/>
<circle cx="588.3" cy="339.99" r="2.7"/>
<circle cx="602.16" cy="331.57" r="2.7"/>
<circle cx="613.19" cy="325.77" r="2.7"/>
<circle cx="615.71" cy="324.49" r="2.7"/>
<circle cx="617.92" cy="323.37" r="2.7"/>
<circle cx="620.12" cy="322.23" r="2.7"/>
<circle cx="645.21" cy="309.2" r="2.7"/>
<circle cx="650.91" cy="306.44" r="2.7"/>
<circle cx="658.44" cy="302.89" r="2.7"/>
<circle cx="666.63" cy="299.12" r="2.7"/>
<circle cx="675.9" cy="294.86" r="2.7"/>
<circle cx="680.84" cy="292.57" r="2.7"/>
<circle cx="696.57" cy="285.39" r="2.7"/>
<circle cx="704.07" cy="282.02" r="2.7"/>
<circle cx="707.09" cy="280.66" r="2.7"/>
<circle cx="710.09" cy="279.33" r="2.7"/>
<circle cx="713.27" cy="277.93" r="2.7"/>
<circle cx="719.07" cy="275.39" r="2.7"/>
<circle cx="730.72" cy="270.39" r="2.7"/>
</g>
<g fill="#33cc33">
<circle cx="417.2" cy="250.52" r="2.7"/>
<circle cx="420.19" cy="250.52" r="2.7"/>
<circle cx="423.5" cy="250.52" r="2.7"/>
<circle cx="430.12" cy="250.52" r="2.7"/>
<circle cx="435.16" cy="250.52" r="2.7"/>
<circle cx="454.07" cy="250.52" r="2.7"/>
<circle cx="458.35" cy="250.52" r="2.7"/>
<circle cx="461.63" cy="250.52" r="2.7"/>
<circle cx="470.77" cy="250.52" r="2.7"/>
<circle cx="480.22" cy="250.52" r="2.7"/>
<circle cx="484" cy="250.52" r="2.7"/>
<circle cx="488.29" cy="250.52" r="2.7"/>
<circle cx="497.05" cy="250.52" r="2.7"/>
<circle cx="499.44" cy="250.52" r="2.7"/>
<circle cx="512.52" cy="250.52" r="2.7"/>
<circle cx="515.83" cy="250.52" r="2.7"/>
<circle cx="518.35" cy="250.52" r="2.7"/>
<circle cx="533.16" cy="250.52" r="2.7"/>
<circle cx="535.2" cy="250.52" r="2.7"/>
<circle cx="548.28" cy="250.52" r="2.7"/>
<circle cx="576.01" cy="250.52" r="2.7"/>
<circle cx="578.53" cy="250.52" r="2.7"/>
<circle cx="587.67" cy="250.52" r="2.7"/>
<circle cx="602.16" cy="250.52" r="2.7"/>
<circle cx="613.51" cy="250.52" r="2.7"/>
<circle cx="616.03" cy="250.52" r="2.7"/>
<circle cx="618.55" cy="250.52" r="2.7"/>
<circle cx="620.12" cy="250.52" r="2.7"/>
<circle cx="645.21" cy="250.52" r="2.7"/>
<circle cx="650.91" cy="250.52" r="2.7"/>
<circle cx="652.58" cy="250.52" r="2.7"/>
<circle cx="658.44" cy="250.52" r="2.7"/>
<circle cx="666.63" cy="250.52" r="2.7"/>
<circle cx="675.9" cy="250.52" r="2.7"/>
<circle cx="680.84" cy="250.52" r="2.7"/>
<circle cx="696.57" cy="250.52" r="2.7"/>
<circle cx="704.07" cy="250.52" r="2.7"/>
<circle cx="707.09" cy="250.52" r="2.7"/>
<circle cx="710.09" cy="250.52" r="2.7"/>
<circle cx="713.27" cy="250.52" r="2.7"/>
<circle cx="719.07" cy="250.52" r="2.7"/>
<circle cx="730.72" cy="250.52" r="2.7"/>
</g>
<line x1="454.8" y1="250" x2="533.9" y2="280.3" stroke="#ff0000" stroke-width="1.4" stroke-dasharray="7 3.5"/>
<circle cx="454.8" cy="250" r="5.6" fill="none" stroke="#ff0000" stroke-width="1.3"/>
<path d="M533.9 273.3 L535.63 277.92 L540.56 278.14 L536.7 281.21 L538.01 285.96 L533.9 283.24 L529.79 285.96 L531.1 281.21 L527.24 278.14 L532.17 277.92 Z" fill="none" stroke="#ff0000" stroke-width="1.5" stroke-linejoin="miter"/>
<path d="M557.1 251.2 L571.4 272.9 L601.1 272.9" fill="none" stroke="#444" stroke-width="1.15" stroke-linejoin="miter"/>
<circle cx="557.1" cy="251.2" r="2.1" fill="#111"/>
<g transform="translate(576.9,270.2)" fill="#383838"><text xml:space="preserve" x="0" y="0" font-family='"Liberation Sans", sans-serif' font-size="13.7">G</text><line x1="1.6" y1="-11.92" x2="9.06" y2="-11.92" stroke="#383838" stroke-width="0.96"/><text xml:space="preserve" x="11.26" y="1.6" font-family='"Liberation Sans", sans-serif' font-size="8.4">R</text></g>
<path d="M648.8 371 L665.9 360.6 L710.6 360.6" fill="none" stroke="#444" stroke-width="1.15" stroke-linejoin="miter"/>
<circle cx="648.8" cy="371" r="2.1" fill="#111"/>
<g transform="translate(665.2,357)" fill="#383838"><text xml:space="preserve" x="0" y="0" font-family='"Liberation Sans", sans-serif' font-size="13.7">G</text><line x1="1.6" y1="-11.92" x2="9.06" y2="-11.92" stroke="#383838" stroke-width="0.96"/><text xml:space="preserve" x="10.66" y="0" font-family='"Liberation Sans", sans-serif' font-size="13.7">(</text><text xml:space="preserve" transform="translate(14.92,0) scale(1.27,1)" font-family='"Liberation Serif", serif' font-size="12.2">Δ</text><line x1="17.71" y1="-10.13" x2="22.09" y2="-10.13" stroke="#383838" stroke-width="0.96"/><text xml:space="preserve" x="24.88" y="1.7" font-family='"Liberation Sans", sans-serif' font-size="7.8">T</text><text xml:space="preserve" x="29.85" y="0" font-family='"Liberation Sans", sans-serif' font-size="13.7">,</text><text xml:space="preserve" x="33.95" y="0" font-family='"Liberation Sans", sans-serif' font-size="13.97">a</text><line x1="34.73" y1="-9.22" x2="40.95" y2="-9.22" stroke="#383838" stroke-width="0.96"/><text xml:space="preserve" x="41.72" y="0" font-family='"Liberation Sans", sans-serif' font-size="13.7">)</text></g>
<circle cx="559.5" cy="237.4" r="4.2" fill="none" stroke="#ff0000" stroke-width="1.2"/>
<g transform="translate(569.5,241.7)" fill="#383838"><text xml:space="preserve" x="0" y="0" font-family='"Liberation Sans", sans-serif' font-size="13.9">Initial state</text></g>
<path d="M647.7 232.6 L648.93 235.9 L652.46 236.05 L649.7 238.25 L650.64 241.65 L647.7 239.7 L644.76 241.65 L645.7 238.25 L642.94 236.05 L646.47 235.9 Z" fill="none" stroke="#ff0000" stroke-width="1.1" stroke-linejoin="miter"/>
<g transform="translate(658,241.7)" fill="#383838"><text xml:space="preserve" x="0" y="0" font-family='"Liberation Sans", sans-serif' font-size="13.9">Final state</text></g>
<circle cx="437.2" cy="356.9" r="3.6" fill="#999999"/>
<g transform="translate(445,361)" fill="#383838"><text xml:space="preserve" x="0" y="0" font-family='"Liberation Sans", sans-serif' font-size="13.9">Consistency cond.</text></g>
<circle cx="437.2" cy="373.8" r="3.6" fill="#33cc33"/>
<g transform="translate(445,377.6)" fill="#383838"><text xml:space="preserve" x="0" y="0" font-family='"Liberation Sans", sans-serif' font-size="13.9">(â, </text><text xml:space="preserve" x="20.08" y="0" font-family='"Liberation Sans", sans-serif' font-size="13.9">G</text><polyline points="22.79,-10.84 25.49,-13.62 28.19,-10.84" fill="none" stroke="#383838" stroke-width="1.11"/><text xml:space="preserve" x="30.89" y="1.39" font-family='"Liberation Sans", sans-serif' font-size="9.17">R</text><text xml:space="preserve" x="37.52" y="0" font-family='"Liberation Sans", sans-serif' font-size="13.9">)</text></g>
<line x1="410" y1="382.1" x2="417.2" y2="382.1" stroke="#1a1a1a" stroke-width="1.7"/>
<g transform="translate(409.3,386.18)" fill="#383838"><text xml:space="preserve" x="-15.85" y="0" font-family='"Liberation Sans", sans-serif' font-size="11.4">0.0</text></g>
<line x1="410" y1="355.78" x2="417.2" y2="355.78" stroke="#1a1a1a" stroke-width="1.7"/>
<g transform="translate(409.3,359.86)" fill="#383838"><text xml:space="preserve" x="-15.85" y="0" font-family='"Liberation Sans", sans-serif' font-size="11.4">0.2</text></g>
<line x1="410" y1="329.47" x2="417.2" y2="329.47" stroke="#1a1a1a" stroke-width="1.7"/>
<g transform="translate(409.3,333.55)" fill="#383838"><text xml:space="preserve" x="-15.85" y="0" font-family='"Liberation Sans", sans-serif' font-size="11.4">0.4</text></g>
<line x1="410" y1="303.15" x2="417.2" y2="303.15" stroke="#1a1a1a" stroke-width="1.7"/>
<g transform="translate(409.3,307.23)" fill="#383838"><text xml:space="preserve" x="-15.85" y="0" font-family='"Liberation Sans", sans-serif' font-size="11.4">0.6</text></g>
<line x1="410" y1="276.83" x2="417.2" y2="276.83" stroke="#1a1a1a" stroke-width="1.7"/>
<g transform="translate(409.3,280.91)" fill="#383838"><text xml:space="preserve" x="-15.85" y="0" font-family='"Liberation Sans", sans-serif' font-size="11.4">0.8</text></g>
<line x1="410" y1="250.52" x2="417.2" y2="250.52" stroke="#1a1a1a" stroke-width="1.7"/>
<g transform="translate(409.3,254.6)" fill="#383838"><text xml:space="preserve" x="-15.85" y="0" font-family='"Liberation Sans", sans-serif' font-size="11.4">1.0</text></g>
<line x1="410" y1="224.2" x2="417.2" y2="224.2" stroke="#1a1a1a" stroke-width="1.7"/>
<g transform="translate(409.3,228.28)" fill="#383838"><text xml:space="preserve" x="-15.85" y="0" font-family='"Liberation Sans", sans-serif' font-size="11.4">1.2</text></g>
<line x1="417.2" y1="382.1" x2="417.2" y2="388.7" stroke="#1a1a1a" stroke-width="1.6"/>
<g transform="translate(421.28,393.6) rotate(-90)" fill="#383838"><text xml:space="preserve" x="-15.85" y="0" font-family='"Liberation Sans", sans-serif' font-size="11.4">0.0</text></g>
<line x1="448.71" y1="382.1" x2="448.71" y2="388.7" stroke="#1a1a1a" stroke-width="1.6"/>
<g transform="translate(452.79,393.6) rotate(-90)" fill="#383838"><text xml:space="preserve" x="-15.85" y="0" font-family='"Liberation Sans", sans-serif' font-size="11.4">0.1</text></g>
<line x1="480.22" y1="382.1" x2="480.22" y2="388.7" stroke="#1a1a1a" stroke-width="1.6"/>
<g transform="translate(484.3,393.6) rotate(-90)" fill="#383838"><text xml:space="preserve" x="-15.85" y="0" font-family='"Liberation Sans", sans-serif' font-size="11.4">0.2</text></g>
<line x1="511.73" y1="382.1" x2="511.73" y2="388.7" stroke="#1a1a1a" stroke-width="1.6"/>
<g transform="translate(515.81,393.6) rotate(-90)" fill="#383838"><text xml:space="preserve" x="-15.85" y="0" font-family='"Liberation Sans", sans-serif' font-size="11.4">0.3</text></g>
<line x1="543.24" y1="382.1" x2="543.24" y2="388.7" stroke="#1a1a1a" stroke-width="1.6"/>
<g transform="translate(547.32,393.6) rotate(-90)" fill="#383838"><text xml:space="preserve" x="-15.85" y="0" font-family='"Liberation Sans", sans-serif' font-size="11.4">0.4</text></g>
<line x1="574.75" y1="382.1" x2="574.75" y2="388.7" stroke="#1a1a1a" stroke-width="1.6"/>
<g transform="translate(578.83,393.6) rotate(-90)" fill="#383838"><text xml:space="preserve" x="-15.85" y="0" font-family='"Liberation Sans", sans-serif' font-size="11.4">0.5</text></g>
<line x1="606.26" y1="382.1" x2="606.26" y2="388.7" stroke="#1a1a1a" stroke-width="1.6"/>
<g transform="translate(610.34,393.6) rotate(-90)" fill="#383838"><text xml:space="preserve" x="-15.85" y="0" font-family='"Liberation Sans", sans-serif' font-size="11.4">0.6</text></g>
<line x1="637.77" y1="382.1" x2="637.77" y2="388.7" stroke="#1a1a1a" stroke-width="1.6"/>
<g transform="translate(641.85,393.6) rotate(-90)" fill="#383838"><text xml:space="preserve" x="-15.85" y="0" font-family='"Liberation Sans", sans-serif' font-size="11.4">0.7</text></g>
<line x1="669.28" y1="382.1" x2="669.28" y2="388.7" stroke="#1a1a1a" stroke-width="1.6"/>
<g transform="translate(673.36,393.6) rotate(-90)" fill="#383838"><text xml:space="preserve" x="-15.85" y="0" font-family='"Liberation Sans", sans-serif' font-size="11.4">0.8</text></g>
<line x1="700.79" y1="382.1" x2="700.79" y2="388.7" stroke="#1a1a1a" stroke-width="1.6"/>
<g transform="translate(704.87,393.6) rotate(-90)" fill="#383838"><text xml:space="preserve" x="-15.85" y="0" font-family='"Liberation Sans", sans-serif' font-size="11.4">0.9</text></g>
<line x1="732.3" y1="382.1" x2="732.3" y2="388.7" stroke="#1a1a1a" stroke-width="1.6"/>
<g transform="translate(734.78,393.6) rotate(-90)" fill="#383838"><text xml:space="preserve" x="-15.85" y="0" font-family='"Liberation Sans", sans-serif' font-size="11.4">1.0</text></g>
<g transform="translate(390.8,303.8) rotate(-90)" fill="#383838"><text xml:space="preserve" x="-17.95" y="0" font-family='"Liberation Sans", sans-serif' font-size="13.8">G</text><line x1="-16.34" y1="-12.28" x2="-8.82" y2="-12.28" stroke="#383838" stroke-width="0.97"/><text xml:space="preserve" x="-7.21" y="0" font-family='"Liberation Sans", sans-serif' font-size="13.8">, </text><text xml:space="preserve" x="0.46" y="0" font-family='"Liberation Sans", sans-serif' font-size="13.8">G</text><line x1="2.07" y1="-12.28" x2="9.58" y2="-12.28" stroke="#383838" stroke-width="0.97"/><text xml:space="preserve" x="11.59" y="1.5" font-family='"Liberation Sans", sans-serif' font-size="8.8">R</text></g>
<g transform="translate(574.4,421.2)" fill="#383838"><text xml:space="preserve" x="-3.78" y="0" font-family='"Liberation Sans", sans-serif' font-size="13.6">a</text><line x1="-3.21" y1="-8.98" x2="3.21" y2="-8.98" stroke="#383838" stroke-width="0.95"/></g>
<g transform="translate(574.8,438)" fill="#383838"><text xml:space="preserve" x="-9.91" y="0" font-family='"Liberation Sans", sans-serif' font-size="17">(c)</text></g>
<polygon points="454.8,410.3 459.75,416.6 457.1,416.6 457.1,422 452.5,422 452.5,416.6 449.85,416.6" fill="#ee0000"/>
<g transform="translate(441.2,427.9)" fill="#383838"><text xml:space="preserve" x="0" y="0" font-family='"Liberation Sans", sans-serif' font-size="11.6">a</text><line x1="0.65" y1="-7.66" x2="5.81" y2="-7.66" stroke="#383838" stroke-width="0.81"/><text xml:space="preserve" x="6.75" y="2.2" font-family='"Liberation Sans", sans-serif' font-size="7.4">40</text></g>
<polygon points="530.6,410.3 535.55,416.6 532.9,416.6 532.9,422 528.3,422 528.3,416.6 525.65,416.6" fill="#ee0000"/>
<g transform="translate(517,427.9)" fill="#383838"><text xml:space="preserve" x="0" y="0" font-family='"Liberation Sans", sans-serif' font-size="11.6">a</text><line x1="0.65" y1="-7.66" x2="5.81" y2="-7.66" stroke="#383838" stroke-width="0.81"/><text xml:space="preserve" x="6.75" y="2.2" font-family='"Liberation Sans", sans-serif' font-size="7.4">41</text></g>
</svg>
</body></html>
